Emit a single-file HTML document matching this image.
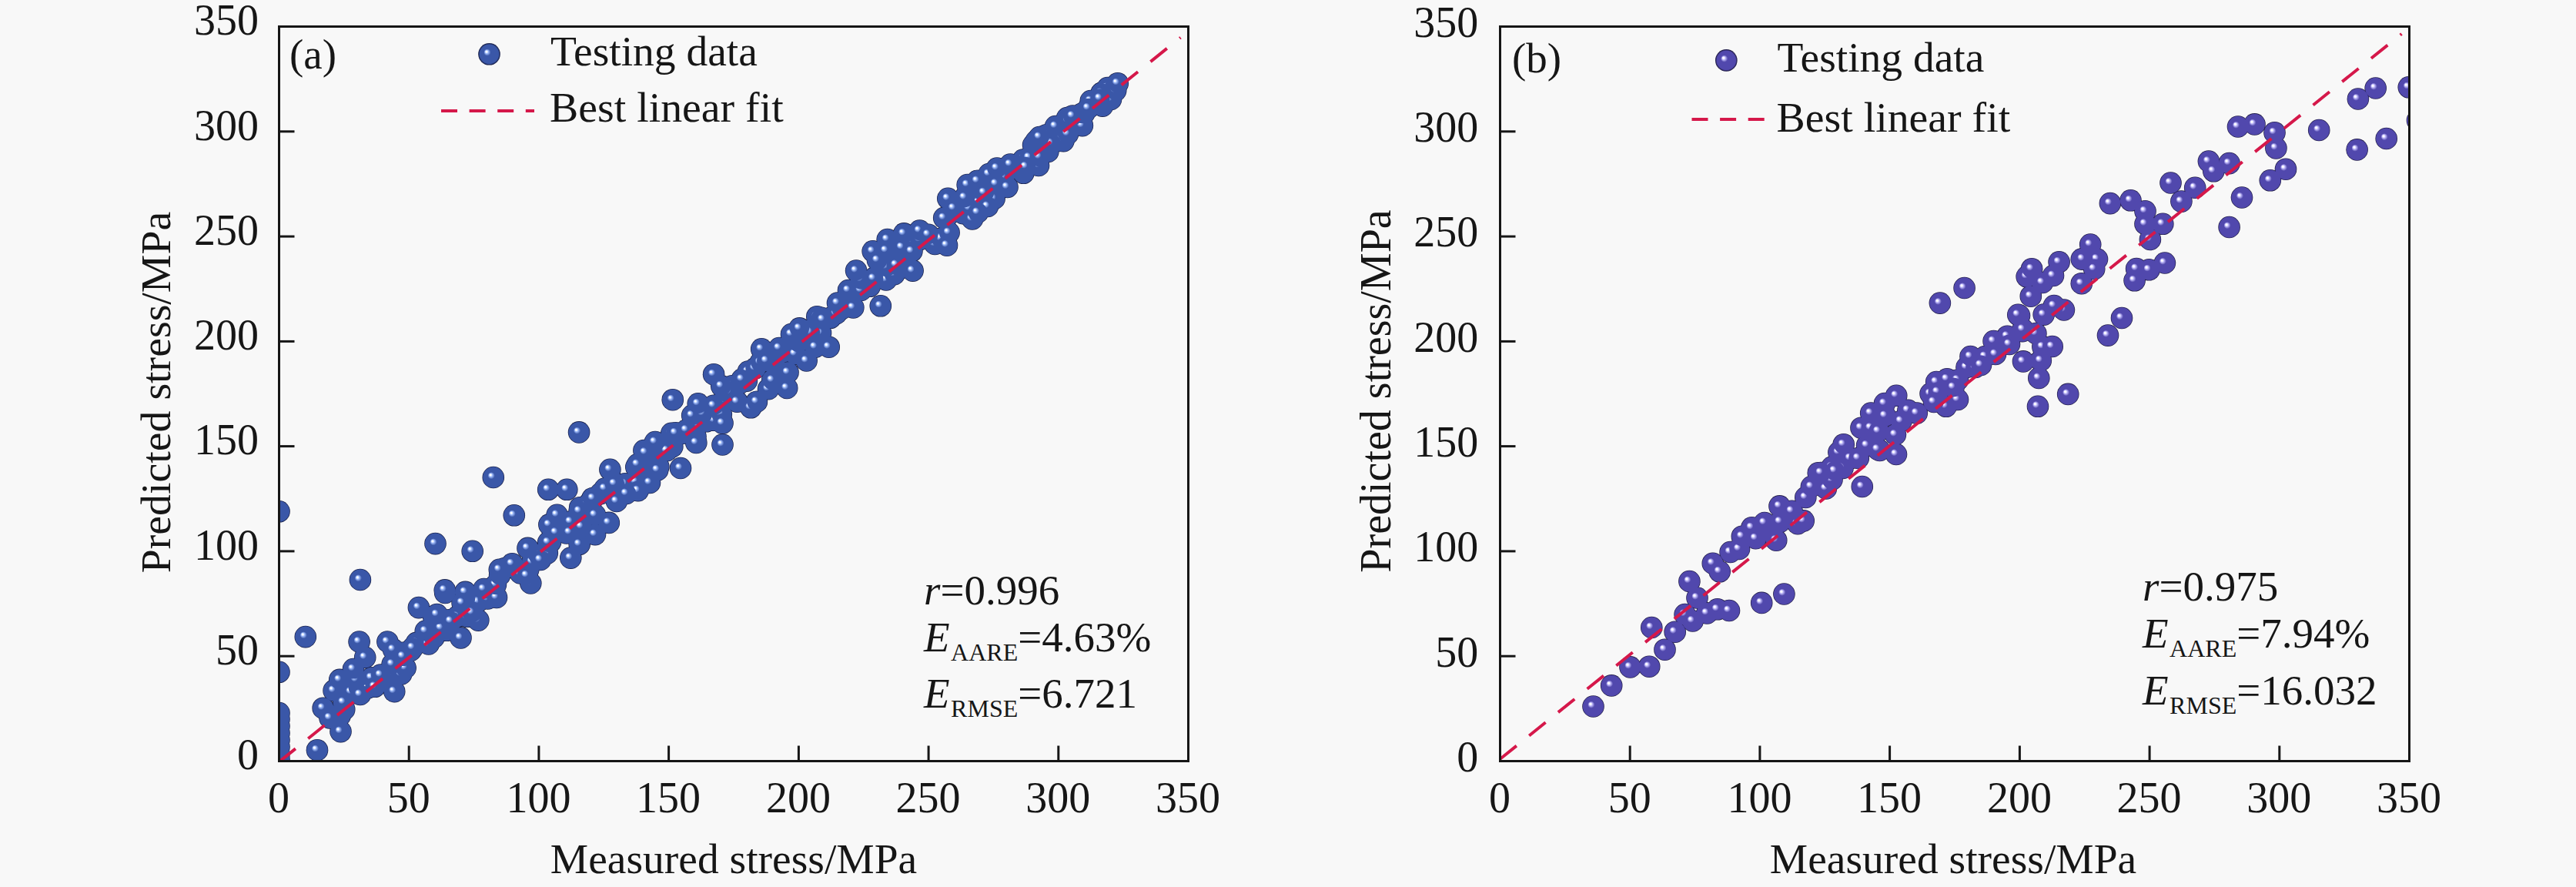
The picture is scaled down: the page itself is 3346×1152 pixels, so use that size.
<!DOCTYPE html><html><head><meta charset="utf-8"><title>fig</title><style>html,body{margin:0;padding:0;background:#f8f8f8;}svg{display:block}</style></head><body>
<svg width="3346" height="1152" viewBox="0 0 3346 1152" font-family="'Liberation Serif', serif" font-size="55" fill="#161616">
<defs><radialGradient id="ga" cx="0.5" cy="0.5" r="0.5" fx="0.34" fy="0.36"><stop offset="0" stop-color="#ffffff"/><stop offset="0.08" stop-color="#ffffff"/><stop offset="0.16" stop-color="#a9c4ff"/><stop offset="0.36" stop-color="#3a57a8"/><stop offset="1" stop-color="#3a57a8"/></radialGradient><radialGradient id="gar" cx="0.5" cy="0.5" r="0.5"><stop offset="0" stop-color="#3a57a8"/><stop offset="0.82" stop-color="#3a57a8"/><stop offset="1" stop-color="#141a40"/></radialGradient><radialGradient id="gb" cx="0.5" cy="0.5" r="0.5" fx="0.34" fy="0.36"><stop offset="0" stop-color="#ffffff"/><stop offset="0.08" stop-color="#ffffff"/><stop offset="0.16" stop-color="#c9c4ff"/><stop offset="0.36" stop-color="#5148ad"/><stop offset="1" stop-color="#5148ad"/></radialGradient><radialGradient id="gbr" cx="0.5" cy="0.5" r="0.5"><stop offset="0" stop-color="#5148ad"/><stop offset="0.82" stop-color="#5148ad"/><stop offset="1" stop-color="#1c183e"/></radialGradient></defs>
<rect width="3346" height="1152" fill="#f8f8f8"/>
<clipPath id="ca"><rect x="362.5" y="34.5" width="1181.0" height="954.0"/></clipPath>
<g clip-path="url(#ca)" fill="url(#gar)">
<circle cx="429.3" cy="929.3" r="14.3"/>
<circle cx="441.7" cy="929.4" r="14.3"/>
<circle cx="447.2" cy="921.4" r="14.3"/>
<circle cx="448.1" cy="906.0" r="14.3"/>
<circle cx="456.3" cy="898.7" r="14.3"/>
<circle cx="465.1" cy="892.6" r="14.3"/>
<circle cx="477.7" cy="893.4" r="14.3"/>
<circle cx="482.7" cy="880.2" r="14.3"/>
<circle cx="497.9" cy="883.4" r="14.3"/>
<circle cx="507.0" cy="874.5" r="14.3"/>
<circle cx="521.2" cy="875.4" r="14.3"/>
<circle cx="526.6" cy="867.5" r="14.3"/>
<circle cx="523.7" cy="847.8" r="14.3"/>
<circle cx="533.5" cy="844.9" r="14.3"/>
<circle cx="541.0" cy="834.9" r="14.3"/>
<circle cx="556.7" cy="836.5" r="14.3"/>
<circle cx="563.4" cy="828.2" r="14.3"/>
<circle cx="563.2" cy="813.3" r="14.3"/>
<circle cx="580.3" cy="818.8" r="14.3"/>
<circle cx="583.0" cy="805.3" r="14.3"/>
<circle cx="593.9" cy="800.8" r="14.3"/>
<circle cx="606.9" cy="800.8" r="14.3"/>
<circle cx="607.7" cy="783.2" r="14.3"/>
<circle cx="620.7" cy="781.5" r="14.3"/>
<circle cx="633.4" cy="777.5" r="14.3"/>
<circle cx="645.0" cy="775.9" r="14.3"/>
<circle cx="643.9" cy="759.5" r="14.3"/>
<circle cx="649.1" cy="747.0" r="14.3"/>
<circle cx="655.9" cy="738.1" r="14.3"/>
<circle cx="675.9" cy="744.4" r="14.3"/>
<circle cx="686.3" cy="739.5" r="14.3"/>
<circle cx="691.5" cy="729.7" r="14.3"/>
<circle cx="698.5" cy="720.5" r="14.3"/>
<circle cx="710.8" cy="718.6" r="14.3"/>
<circle cx="715.1" cy="703.8" r="14.3"/>
<circle cx="717.9" cy="688.9" r="14.3"/>
<circle cx="735.8" cy="692.5" r="14.3"/>
<circle cx="748.5" cy="687.7" r="14.3"/>
<circle cx="749.7" cy="673.3" r="14.3"/>
<circle cx="753.2" cy="659.2" r="14.3"/>
<circle cx="763.8" cy="655.2" r="14.3"/>
<circle cx="769.5" cy="647.2" r="14.3"/>
<circle cx="779.9" cy="641.1" r="14.3"/>
<circle cx="791.6" cy="639.7" r="14.3"/>
<circle cx="796.5" cy="626.2" r="14.3"/>
<circle cx="811.9" cy="628.2" r="14.3"/>
<circle cx="825.7" cy="625.5" r="14.3"/>
<circle cx="827.1" cy="607.7" r="14.3"/>
<circle cx="836.6" cy="602.5" r="14.3"/>
<circle cx="855.3" cy="606.0" r="14.3"/>
<circle cx="850.9" cy="585.3" r="14.3"/>
<circle cx="859.5" cy="580.2" r="14.3"/>
<circle cx="873.3" cy="580.1" r="14.3"/>
<circle cx="872.2" cy="562.8" r="14.3"/>
<circle cx="886.0" cy="563.0" r="14.3"/>
<circle cx="903.5" cy="567.0" r="14.3"/>
<circle cx="906.0" cy="551.5" r="14.3"/>
<circle cx="917.3" cy="547.3" r="14.3"/>
<circle cx="927.8" cy="545.8" r="14.3"/>
<circle cx="936.8" cy="537.8" r="14.3"/>
<circle cx="938.9" cy="521.2" r="14.3"/>
<circle cx="942.7" cy="509.2" r="14.3"/>
<circle cx="951.0" cy="501.2" r="14.3"/>
<circle cx="960.4" cy="498.2" r="14.3"/>
<circle cx="969.9" cy="494.6" r="14.3"/>
<circle cx="971.9" cy="482.5" r="14.3"/>
<circle cx="980.9" cy="478.4" r="14.3"/>
<circle cx="987.8" cy="470.5" r="14.3"/>
<circle cx="1006.3" cy="473.7" r="14.3"/>
<circle cx="1008.3" cy="461.0" r="14.3"/>
<circle cx="1018.1" cy="456.6" r="14.3"/>
<circle cx="1032.8" cy="459.7" r="14.3"/>
<circle cx="1036.9" cy="444.5" r="14.3"/>
<circle cx="1039.6" cy="430.6" r="14.3"/>
<circle cx="1050.8" cy="429.5" r="14.3"/>
<circle cx="1066.0" cy="432.4" r="14.3"/>
<circle cx="1061.3" cy="411.2" r="14.3"/>
<circle cx="1078.8" cy="412.8" r="14.3"/>
<circle cx="1086.4" cy="407.1" r="14.3"/>
<circle cx="1093.3" cy="401.1" r="14.3"/>
<circle cx="1108.3" cy="399.4" r="14.3"/>
<circle cx="1108.3" cy="380.8" r="14.3"/>
<circle cx="1115.0" cy="372.5" r="14.3"/>
<circle cx="1129.8" cy="371.8" r="14.3"/>
<circle cx="1136.1" cy="360.5" r="14.3"/>
<circle cx="1151.0" cy="363.4" r="14.3"/>
<circle cx="1161.6" cy="356.1" r="14.3"/>
<circle cx="1170.5" cy="347.9" r="14.3"/>
<circle cx="1170.8" cy="329.4" r="14.3"/>
<circle cx="1181.3" cy="324.9" r="14.3"/>
<circle cx="1183.4" cy="313.1" r="14.3"/>
<circle cx="1194.7" cy="311.1" r="14.3"/>
<circle cx="1214.4" cy="316.9" r="14.3"/>
<circle cx="1222.4" cy="309.8" r="14.3"/>
<circle cx="1232.6" cy="302.1" r="14.3"/>
<circle cx="1229.6" cy="281.8" r="14.3"/>
<circle cx="1237.0" cy="275.2" r="14.3"/>
<circle cx="1251.0" cy="277.1" r="14.3"/>
<circle cx="1264.0" cy="273.3" r="14.3"/>
<circle cx="1269.6" cy="263.0" r="14.3"/>
<circle cx="1270.4" cy="244.8" r="14.3"/>
<circle cx="1291.9" cy="253.0" r="14.3"/>
<circle cx="1298.8" cy="242.5" r="14.3"/>
<circle cx="1298.6" cy="225.0" r="14.3"/>
<circle cx="1310.3" cy="220.4" r="14.3"/>
<circle cx="1329.4" cy="224.8" r="14.3"/>
<circle cx="1328.9" cy="207.5" r="14.3"/>
<circle cx="1343.7" cy="205.6" r="14.3"/>
<circle cx="1342.1" cy="188.4" r="14.3"/>
<circle cx="1361.3" cy="196.9" r="14.3"/>
<circle cx="1359.3" cy="175.2" r="14.3"/>
<circle cx="1381.4" cy="183.1" r="14.3"/>
<circle cx="1380.8" cy="164.1" r="14.3"/>
<circle cx="1386.2" cy="153.1" r="14.3"/>
<circle cx="1405.9" cy="163.1" r="14.3"/>
<circle cx="1408.1" cy="147.6" r="14.3"/>
<circle cx="1416.5" cy="138.0" r="14.3"/>
<circle cx="1432.1" cy="137.6" r="14.3"/>
<circle cx="1431.0" cy="120.7" r="14.3"/>
<circle cx="1438.7" cy="114.1" r="14.3"/>
<circle cx="362.5" cy="664.3" r="14.3"/>
<circle cx="362.5" cy="872.8" r="14.3"/>
<circle cx="362.5" cy="926.0" r="14.3"/>
<circle cx="362.5" cy="934.0" r="14.3"/>
<circle cx="362.5" cy="943.0" r="14.3"/>
<circle cx="362.5" cy="952.0" r="14.3"/>
<circle cx="362.5" cy="961.0" r="14.3"/>
<circle cx="362.5" cy="970.0" r="14.3"/>
<circle cx="362.5" cy="979.0" r="14.3"/>
<circle cx="362.5" cy="986.0" r="14.3"/>
<circle cx="412.0" cy="974.2" r="14.3"/>
<circle cx="396.8" cy="827.1" r="14.3"/>
<circle cx="442.5" cy="950.1" r="14.3"/>
<circle cx="419.7" cy="919.7" r="14.3"/>
<circle cx="428.5" cy="932.4" r="14.3"/>
<circle cx="433.6" cy="896.9" r="14.3"/>
<circle cx="446.3" cy="912.1" r="14.3"/>
<circle cx="441.2" cy="882.9" r="14.3"/>
<circle cx="462.8" cy="882.9" r="14.3"/>
<circle cx="459.0" cy="869.0" r="14.3"/>
<circle cx="467.9" cy="902.0" r="14.3"/>
<circle cx="466.6" cy="833.5" r="14.3"/>
<circle cx="474.2" cy="853.8" r="14.3"/>
<circle cx="494.5" cy="876.6" r="14.3"/>
<circle cx="512.2" cy="898.1" r="14.3"/>
<circle cx="486.9" cy="891.8" r="14.3"/>
<circle cx="503.4" cy="833.5" r="14.3"/>
<circle cx="511.0" cy="843.6" r="14.3"/>
<circle cx="509.7" cy="862.6" r="14.3"/>
<circle cx="523.7" cy="852.5" r="14.3"/>
<circle cx="536.3" cy="841.1" r="14.3"/>
<circle cx="543.9" cy="789.1" r="14.3"/>
<circle cx="563.0" cy="800.5" r="14.3"/>
<circle cx="552.8" cy="819.5" r="14.3"/>
<circle cx="573.1" cy="815.7" r="14.3"/>
<circle cx="598.5" cy="828.4" r="14.3"/>
<circle cx="585.8" cy="806.8" r="14.3"/>
<circle cx="604.8" cy="776.4" r="14.3"/>
<circle cx="611.2" cy="792.9" r="14.3"/>
<circle cx="621.3" cy="805.6" r="14.3"/>
<circle cx="578.2" cy="770.0" r="14.3"/>
<circle cx="467.9" cy="753.0" r="14.3"/>
<circle cx="565.5" cy="706.1" r="14.3"/>
<circle cx="613.7" cy="715.8" r="14.3"/>
<circle cx="640.8" cy="620.0" r="14.3"/>
<circle cx="667.8" cy="669.3" r="14.3"/>
<circle cx="712.2" cy="635.8" r="14.3"/>
<circle cx="736.3" cy="635.8" r="14.3"/>
<circle cx="577.8" cy="766.4" r="14.3"/>
<circle cx="604.4" cy="768.9" r="14.3"/>
<circle cx="567.6" cy="798.1" r="14.3"/>
<circle cx="628.5" cy="765.1" r="14.3"/>
<circle cx="600.6" cy="782.9" r="14.3"/>
<circle cx="613.3" cy="795.6" r="14.3"/>
<circle cx="648.8" cy="739.8" r="14.3"/>
<circle cx="665.3" cy="732.2" r="14.3"/>
<circle cx="685.5" cy="711.9" r="14.3"/>
<circle cx="689.3" cy="757.5" r="14.3"/>
<circle cx="684.3" cy="747.4" r="14.3"/>
<circle cx="702.0" cy="727.0" r="14.3"/>
<circle cx="713.4" cy="681.4" r="14.3"/>
<circle cx="723.6" cy="668.8" r="14.3"/>
<circle cx="722.3" cy="691.6" r="14.3"/>
<circle cx="712.2" cy="704.3" r="14.3"/>
<circle cx="741.3" cy="677.6" r="14.3"/>
<circle cx="740.1" cy="691.6" r="14.3"/>
<circle cx="741.3" cy="724.6" r="14.3"/>
<circle cx="752.7" cy="706.8" r="14.3"/>
<circle cx="773.0" cy="668.8" r="14.3"/>
<circle cx="773.0" cy="694.1" r="14.3"/>
<circle cx="790.8" cy="678.9" r="14.3"/>
<circle cx="770.5" cy="647.2" r="14.3"/>
<circle cx="785.7" cy="634.5" r="14.3"/>
<circle cx="798.4" cy="628.2" r="14.3"/>
<circle cx="800.9" cy="651.0" r="14.3"/>
<circle cx="828.8" cy="637.1" r="14.3"/>
<circle cx="826.3" cy="606.6" r="14.3"/>
<circle cx="844.0" cy="626.9" r="14.3"/>
<circle cx="836.4" cy="585.1" r="14.3"/>
<circle cx="854.2" cy="610.4" r="14.3"/>
<circle cx="792.4" cy="609.8" r="14.3"/>
<circle cx="873.8" cy="519.2" r="14.3"/>
<circle cx="927.1" cy="486.2" r="14.3"/>
<circle cx="884.0" cy="608.0" r="14.3"/>
<circle cx="938.5" cy="577.5" r="14.3"/>
<circle cx="828.2" cy="603.0" r="14.3"/>
<circle cx="838.3" cy="587.7" r="14.3"/>
<circle cx="852.3" cy="577.5" r="14.3"/>
<circle cx="866.2" cy="585.1" r="14.3"/>
<circle cx="877.6" cy="562.3" r="14.3"/>
<circle cx="891.6" cy="558.5" r="14.3"/>
<circle cx="904.3" cy="575.0" r="14.3"/>
<circle cx="899.2" cy="539.5" r="14.3"/>
<circle cx="913.1" cy="537.0" r="14.3"/>
<circle cx="906.8" cy="524.3" r="14.3"/>
<circle cx="927.1" cy="526.8" r="14.3"/>
<circle cx="938.5" cy="549.6" r="14.3"/>
<circle cx="947.4" cy="509.1" r="14.3"/>
<circle cx="937.2" cy="501.4" r="14.3"/>
<circle cx="963.9" cy="492.6" r="14.3"/>
<circle cx="957.5" cy="521.7" r="14.3"/>
<circle cx="975.3" cy="529.3" r="14.3"/>
<circle cx="982.9" cy="521.7" r="14.3"/>
<circle cx="998.1" cy="505.2" r="14.3"/>
<circle cx="1022.2" cy="504.0" r="14.3"/>
<circle cx="989.2" cy="453.3" r="14.3"/>
<circle cx="995.6" cy="468.5" r="14.3"/>
<circle cx="1012.1" cy="452.0" r="14.3"/>
<circle cx="1003.2" cy="493.8" r="14.3"/>
<circle cx="1023.5" cy="483.7" r="14.3"/>
<circle cx="1047.6" cy="468.5" r="14.3"/>
<circle cx="1048.8" cy="429.2" r="14.3"/>
<circle cx="1033.6" cy="435.5" r="14.3"/>
<circle cx="1059.0" cy="450.7" r="14.3"/>
<circle cx="1066.6" cy="412.7" r="14.3"/>
<circle cx="1076.7" cy="450.7" r="14.3"/>
<circle cx="1143.8" cy="397.3" r="14.3"/>
<circle cx="1052.5" cy="431.5" r="14.3"/>
<circle cx="1069.0" cy="415.0" r="14.3"/>
<circle cx="1088.0" cy="393.5" r="14.3"/>
<circle cx="1102.0" cy="377.0" r="14.3"/>
<circle cx="1118.4" cy="377.0" r="14.3"/>
<circle cx="1118.4" cy="363.0" r="14.3"/>
<circle cx="1134.9" cy="361.8" r="14.3"/>
<circle cx="1112.1" cy="351.6" r="14.3"/>
<circle cx="1133.7" cy="326.3" r="14.3"/>
<circle cx="1151.4" cy="346.6" r="14.3"/>
<circle cx="1152.7" cy="311.0" r="14.3"/>
<circle cx="1164.1" cy="344.0" r="14.3"/>
<circle cx="1171.7" cy="321.2" r="14.3"/>
<circle cx="1174.2" cy="303.4" r="14.3"/>
<circle cx="1184.4" cy="326.3" r="14.3"/>
<circle cx="1185.6" cy="351.6" r="14.3"/>
<circle cx="1194.5" cy="299.6" r="14.3"/>
<circle cx="1205.9" cy="304.7" r="14.3"/>
<circle cx="1230.0" cy="318.7" r="14.3"/>
<circle cx="1226.2" cy="283.1" r="14.3"/>
<circle cx="1231.3" cy="257.8" r="14.3"/>
<circle cx="1238.9" cy="270.5" r="14.3"/>
<circle cx="1254.1" cy="255.3" r="14.3"/>
<circle cx="1259.2" cy="270.5" r="14.3"/>
<circle cx="1263.0" cy="284.4" r="14.3"/>
<circle cx="1269.3" cy="235.0" r="14.3"/>
<circle cx="1256.7" cy="240.0" r="14.3"/>
<circle cx="1282.0" cy="247.6" r="14.3"/>
<circle cx="1284.6" cy="226.1" r="14.3"/>
<circle cx="1294.7" cy="238.8" r="14.3"/>
<circle cx="1028.0" cy="434.0" r="14.3"/>
<circle cx="1038.5" cy="426.4" r="14.3"/>
<circle cx="1291.6" cy="258.0" r="14.3"/>
<circle cx="1445.9" cy="115.8" r="14.3"/>
<circle cx="1430.7" cy="120.9" r="14.3"/>
<circle cx="1416.8" cy="131.0" r="14.3"/>
<circle cx="1405.4" cy="147.5" r="14.3"/>
<circle cx="1387.6" cy="156.4" r="14.3"/>
<circle cx="1371.1" cy="164.0" r="14.3"/>
<circle cx="1376.2" cy="183.0" r="14.3"/>
<circle cx="1345.8" cy="183.0" r="14.3"/>
<circle cx="1336.9" cy="204.6" r="14.3"/>
<circle cx="1322.9" cy="214.7" r="14.3"/>
<circle cx="1303.9" cy="230.0" r="14.3"/>
<circle cx="1295.0" cy="218.5" r="14.3"/>
<circle cx="1269.7" cy="235.0" r="14.3"/>
<circle cx="1293.8" cy="238.8" r="14.3"/>
<circle cx="1253.2" cy="256.6" r="14.3"/>
<circle cx="1278.5" cy="250.2" r="14.3"/>
<circle cx="1443.0" cy="129.0" r="14.3"/>
<circle cx="1387.0" cy="174.0" r="14.3"/>
<circle cx="1349.0" cy="215.0" r="14.3"/>
<circle cx="1308.5" cy="243.0" r="14.3"/>
<circle cx="755.3" cy="684.0" r="14.3"/>
<circle cx="752.7" cy="663.7" r="14.3"/>
<circle cx="813.6" cy="641.0" r="14.3"/>
<circle cx="1140.0" cy="338.0" r="14.3"/>
<circle cx="1283.0" cy="268.0" r="14.3"/>
<circle cx="1270.0" cy="276.0" r="14.3"/>
<circle cx="752.1" cy="561.4" r="14.3"/>
<circle cx="851.0" cy="574.0" r="14.3"/>
<circle cx="1332.6" cy="216.5" r="14.3"/>
<circle cx="1350.3" cy="203.8" r="14.3"/>
<circle cx="1365.5" cy="186.1" r="14.3"/>
<circle cx="1393.4" cy="150.6" r="14.3"/>
<circle cx="1413.7" cy="140.4" r="14.3"/>
<circle cx="1428.9" cy="127.8" r="14.3"/>
<circle cx="1449.2" cy="117.6" r="14.3"/>
<circle cx="1312.3" cy="213.5" r="14.3"/>
<circle cx="1350.3" cy="178.0" r="14.3"/>
<circle cx="1451.8" cy="108.2" r="14.3"/>
<circle cx="1151.0" cy="325.4" r="14.3"/>
</g>
<g clip-path="url(#ca)" fill="#3a57a8">
<circle cx="429.3" cy="929.3" r="13.5"/>
<circle cx="441.7" cy="929.4" r="13.5"/>
<circle cx="447.2" cy="921.4" r="13.5"/>
<circle cx="448.1" cy="906.0" r="13.5"/>
<circle cx="456.3" cy="898.7" r="13.5"/>
<circle cx="465.1" cy="892.6" r="13.5"/>
<circle cx="477.7" cy="893.4" r="13.5"/>
<circle cx="482.7" cy="880.2" r="13.5"/>
<circle cx="497.9" cy="883.4" r="13.5"/>
<circle cx="507.0" cy="874.5" r="13.5"/>
<circle cx="521.2" cy="875.4" r="13.5"/>
<circle cx="526.6" cy="867.5" r="13.5"/>
<circle cx="523.7" cy="847.8" r="13.5"/>
<circle cx="533.5" cy="844.9" r="13.5"/>
<circle cx="541.0" cy="834.9" r="13.5"/>
<circle cx="556.7" cy="836.5" r="13.5"/>
<circle cx="563.4" cy="828.2" r="13.5"/>
<circle cx="563.2" cy="813.3" r="13.5"/>
<circle cx="580.3" cy="818.8" r="13.5"/>
<circle cx="583.0" cy="805.3" r="13.5"/>
<circle cx="593.9" cy="800.8" r="13.5"/>
<circle cx="606.9" cy="800.8" r="13.5"/>
<circle cx="607.7" cy="783.2" r="13.5"/>
<circle cx="620.7" cy="781.5" r="13.5"/>
<circle cx="633.4" cy="777.5" r="13.5"/>
<circle cx="645.0" cy="775.9" r="13.5"/>
<circle cx="643.9" cy="759.5" r="13.5"/>
<circle cx="649.1" cy="747.0" r="13.5"/>
<circle cx="655.9" cy="738.1" r="13.5"/>
<circle cx="675.9" cy="744.4" r="13.5"/>
<circle cx="686.3" cy="739.5" r="13.5"/>
<circle cx="691.5" cy="729.7" r="13.5"/>
<circle cx="698.5" cy="720.5" r="13.5"/>
<circle cx="710.8" cy="718.6" r="13.5"/>
<circle cx="715.1" cy="703.8" r="13.5"/>
<circle cx="717.9" cy="688.9" r="13.5"/>
<circle cx="735.8" cy="692.5" r="13.5"/>
<circle cx="748.5" cy="687.7" r="13.5"/>
<circle cx="749.7" cy="673.3" r="13.5"/>
<circle cx="753.2" cy="659.2" r="13.5"/>
<circle cx="763.8" cy="655.2" r="13.5"/>
<circle cx="769.5" cy="647.2" r="13.5"/>
<circle cx="779.9" cy="641.1" r="13.5"/>
<circle cx="791.6" cy="639.7" r="13.5"/>
<circle cx="796.5" cy="626.2" r="13.5"/>
<circle cx="811.9" cy="628.2" r="13.5"/>
<circle cx="825.7" cy="625.5" r="13.5"/>
<circle cx="827.1" cy="607.7" r="13.5"/>
<circle cx="836.6" cy="602.5" r="13.5"/>
<circle cx="855.3" cy="606.0" r="13.5"/>
<circle cx="850.9" cy="585.3" r="13.5"/>
<circle cx="859.5" cy="580.2" r="13.5"/>
<circle cx="873.3" cy="580.1" r="13.5"/>
<circle cx="872.2" cy="562.8" r="13.5"/>
<circle cx="886.0" cy="563.0" r="13.5"/>
<circle cx="903.5" cy="567.0" r="13.5"/>
<circle cx="906.0" cy="551.5" r="13.5"/>
<circle cx="917.3" cy="547.3" r="13.5"/>
<circle cx="927.8" cy="545.8" r="13.5"/>
<circle cx="936.8" cy="537.8" r="13.5"/>
<circle cx="938.9" cy="521.2" r="13.5"/>
<circle cx="942.7" cy="509.2" r="13.5"/>
<circle cx="951.0" cy="501.2" r="13.5"/>
<circle cx="960.4" cy="498.2" r="13.5"/>
<circle cx="969.9" cy="494.6" r="13.5"/>
<circle cx="971.9" cy="482.5" r="13.5"/>
<circle cx="980.9" cy="478.4" r="13.5"/>
<circle cx="987.8" cy="470.5" r="13.5"/>
<circle cx="1006.3" cy="473.7" r="13.5"/>
<circle cx="1008.3" cy="461.0" r="13.5"/>
<circle cx="1018.1" cy="456.6" r="13.5"/>
<circle cx="1032.8" cy="459.7" r="13.5"/>
<circle cx="1036.9" cy="444.5" r="13.5"/>
<circle cx="1039.6" cy="430.6" r="13.5"/>
<circle cx="1050.8" cy="429.5" r="13.5"/>
<circle cx="1066.0" cy="432.4" r="13.5"/>
<circle cx="1061.3" cy="411.2" r="13.5"/>
<circle cx="1078.8" cy="412.8" r="13.5"/>
<circle cx="1086.4" cy="407.1" r="13.5"/>
<circle cx="1093.3" cy="401.1" r="13.5"/>
<circle cx="1108.3" cy="399.4" r="13.5"/>
<circle cx="1108.3" cy="380.8" r="13.5"/>
<circle cx="1115.0" cy="372.5" r="13.5"/>
<circle cx="1129.8" cy="371.8" r="13.5"/>
<circle cx="1136.1" cy="360.5" r="13.5"/>
<circle cx="1151.0" cy="363.4" r="13.5"/>
<circle cx="1161.6" cy="356.1" r="13.5"/>
<circle cx="1170.5" cy="347.9" r="13.5"/>
<circle cx="1170.8" cy="329.4" r="13.5"/>
<circle cx="1181.3" cy="324.9" r="13.5"/>
<circle cx="1183.4" cy="313.1" r="13.5"/>
<circle cx="1194.7" cy="311.1" r="13.5"/>
<circle cx="1214.4" cy="316.9" r="13.5"/>
<circle cx="1222.4" cy="309.8" r="13.5"/>
<circle cx="1232.6" cy="302.1" r="13.5"/>
<circle cx="1229.6" cy="281.8" r="13.5"/>
<circle cx="1237.0" cy="275.2" r="13.5"/>
<circle cx="1251.0" cy="277.1" r="13.5"/>
<circle cx="1264.0" cy="273.3" r="13.5"/>
<circle cx="1269.6" cy="263.0" r="13.5"/>
<circle cx="1270.4" cy="244.8" r="13.5"/>
<circle cx="1291.9" cy="253.0" r="13.5"/>
<circle cx="1298.8" cy="242.5" r="13.5"/>
<circle cx="1298.6" cy="225.0" r="13.5"/>
<circle cx="1310.3" cy="220.4" r="13.5"/>
<circle cx="1329.4" cy="224.8" r="13.5"/>
<circle cx="1328.9" cy="207.5" r="13.5"/>
<circle cx="1343.7" cy="205.6" r="13.5"/>
<circle cx="1342.1" cy="188.4" r="13.5"/>
<circle cx="1361.3" cy="196.9" r="13.5"/>
<circle cx="1359.3" cy="175.2" r="13.5"/>
<circle cx="1381.4" cy="183.1" r="13.5"/>
<circle cx="1380.8" cy="164.1" r="13.5"/>
<circle cx="1386.2" cy="153.1" r="13.5"/>
<circle cx="1405.9" cy="163.1" r="13.5"/>
<circle cx="1408.1" cy="147.6" r="13.5"/>
<circle cx="1416.5" cy="138.0" r="13.5"/>
<circle cx="1432.1" cy="137.6" r="13.5"/>
<circle cx="1431.0" cy="120.7" r="13.5"/>
<circle cx="1438.7" cy="114.1" r="13.5"/>
<circle cx="362.5" cy="664.3" r="13.5"/>
<circle cx="362.5" cy="872.8" r="13.5"/>
<circle cx="362.5" cy="926.0" r="13.5"/>
<circle cx="362.5" cy="934.0" r="13.5"/>
<circle cx="362.5" cy="943.0" r="13.5"/>
<circle cx="362.5" cy="952.0" r="13.5"/>
<circle cx="362.5" cy="961.0" r="13.5"/>
<circle cx="362.5" cy="970.0" r="13.5"/>
<circle cx="362.5" cy="979.0" r="13.5"/>
<circle cx="362.5" cy="986.0" r="13.5"/>
<circle cx="412.0" cy="974.2" r="13.5"/>
<circle cx="396.8" cy="827.1" r="13.5"/>
<circle cx="442.5" cy="950.1" r="13.5"/>
<circle cx="419.7" cy="919.7" r="13.5"/>
<circle cx="428.5" cy="932.4" r="13.5"/>
<circle cx="433.6" cy="896.9" r="13.5"/>
<circle cx="446.3" cy="912.1" r="13.5"/>
<circle cx="441.2" cy="882.9" r="13.5"/>
<circle cx="462.8" cy="882.9" r="13.5"/>
<circle cx="459.0" cy="869.0" r="13.5"/>
<circle cx="467.9" cy="902.0" r="13.5"/>
<circle cx="466.6" cy="833.5" r="13.5"/>
<circle cx="474.2" cy="853.8" r="13.5"/>
<circle cx="494.5" cy="876.6" r="13.5"/>
<circle cx="512.2" cy="898.1" r="13.5"/>
<circle cx="486.9" cy="891.8" r="13.5"/>
<circle cx="503.4" cy="833.5" r="13.5"/>
<circle cx="511.0" cy="843.6" r="13.5"/>
<circle cx="509.7" cy="862.6" r="13.5"/>
<circle cx="523.7" cy="852.5" r="13.5"/>
<circle cx="536.3" cy="841.1" r="13.5"/>
<circle cx="543.9" cy="789.1" r="13.5"/>
<circle cx="563.0" cy="800.5" r="13.5"/>
<circle cx="552.8" cy="819.5" r="13.5"/>
<circle cx="573.1" cy="815.7" r="13.5"/>
<circle cx="598.5" cy="828.4" r="13.5"/>
<circle cx="585.8" cy="806.8" r="13.5"/>
<circle cx="604.8" cy="776.4" r="13.5"/>
<circle cx="611.2" cy="792.9" r="13.5"/>
<circle cx="621.3" cy="805.6" r="13.5"/>
<circle cx="578.2" cy="770.0" r="13.5"/>
<circle cx="467.9" cy="753.0" r="13.5"/>
<circle cx="565.5" cy="706.1" r="13.5"/>
<circle cx="613.7" cy="715.8" r="13.5"/>
<circle cx="640.8" cy="620.0" r="13.5"/>
<circle cx="667.8" cy="669.3" r="13.5"/>
<circle cx="712.2" cy="635.8" r="13.5"/>
<circle cx="736.3" cy="635.8" r="13.5"/>
<circle cx="577.8" cy="766.4" r="13.5"/>
<circle cx="604.4" cy="768.9" r="13.5"/>
<circle cx="567.6" cy="798.1" r="13.5"/>
<circle cx="628.5" cy="765.1" r="13.5"/>
<circle cx="600.6" cy="782.9" r="13.5"/>
<circle cx="613.3" cy="795.6" r="13.5"/>
<circle cx="648.8" cy="739.8" r="13.5"/>
<circle cx="665.3" cy="732.2" r="13.5"/>
<circle cx="685.5" cy="711.9" r="13.5"/>
<circle cx="689.3" cy="757.5" r="13.5"/>
<circle cx="684.3" cy="747.4" r="13.5"/>
<circle cx="702.0" cy="727.0" r="13.5"/>
<circle cx="713.4" cy="681.4" r="13.5"/>
<circle cx="723.6" cy="668.8" r="13.5"/>
<circle cx="722.3" cy="691.6" r="13.5"/>
<circle cx="712.2" cy="704.3" r="13.5"/>
<circle cx="741.3" cy="677.6" r="13.5"/>
<circle cx="740.1" cy="691.6" r="13.5"/>
<circle cx="741.3" cy="724.6" r="13.5"/>
<circle cx="752.7" cy="706.8" r="13.5"/>
<circle cx="773.0" cy="668.8" r="13.5"/>
<circle cx="773.0" cy="694.1" r="13.5"/>
<circle cx="790.8" cy="678.9" r="13.5"/>
<circle cx="770.5" cy="647.2" r="13.5"/>
<circle cx="785.7" cy="634.5" r="13.5"/>
<circle cx="798.4" cy="628.2" r="13.5"/>
<circle cx="800.9" cy="651.0" r="13.5"/>
<circle cx="828.8" cy="637.1" r="13.5"/>
<circle cx="826.3" cy="606.6" r="13.5"/>
<circle cx="844.0" cy="626.9" r="13.5"/>
<circle cx="836.4" cy="585.1" r="13.5"/>
<circle cx="854.2" cy="610.4" r="13.5"/>
<circle cx="792.4" cy="609.8" r="13.5"/>
<circle cx="873.8" cy="519.2" r="13.5"/>
<circle cx="927.1" cy="486.2" r="13.5"/>
<circle cx="884.0" cy="608.0" r="13.5"/>
<circle cx="938.5" cy="577.5" r="13.5"/>
<circle cx="828.2" cy="603.0" r="13.5"/>
<circle cx="838.3" cy="587.7" r="13.5"/>
<circle cx="852.3" cy="577.5" r="13.5"/>
<circle cx="866.2" cy="585.1" r="13.5"/>
<circle cx="877.6" cy="562.3" r="13.5"/>
<circle cx="891.6" cy="558.5" r="13.5"/>
<circle cx="904.3" cy="575.0" r="13.5"/>
<circle cx="899.2" cy="539.5" r="13.5"/>
<circle cx="913.1" cy="537.0" r="13.5"/>
<circle cx="906.8" cy="524.3" r="13.5"/>
<circle cx="927.1" cy="526.8" r="13.5"/>
<circle cx="938.5" cy="549.6" r="13.5"/>
<circle cx="947.4" cy="509.1" r="13.5"/>
<circle cx="937.2" cy="501.4" r="13.5"/>
<circle cx="963.9" cy="492.6" r="13.5"/>
<circle cx="957.5" cy="521.7" r="13.5"/>
<circle cx="975.3" cy="529.3" r="13.5"/>
<circle cx="982.9" cy="521.7" r="13.5"/>
<circle cx="998.1" cy="505.2" r="13.5"/>
<circle cx="1022.2" cy="504.0" r="13.5"/>
<circle cx="989.2" cy="453.3" r="13.5"/>
<circle cx="995.6" cy="468.5" r="13.5"/>
<circle cx="1012.1" cy="452.0" r="13.5"/>
<circle cx="1003.2" cy="493.8" r="13.5"/>
<circle cx="1023.5" cy="483.7" r="13.5"/>
<circle cx="1047.6" cy="468.5" r="13.5"/>
<circle cx="1048.8" cy="429.2" r="13.5"/>
<circle cx="1033.6" cy="435.5" r="13.5"/>
<circle cx="1059.0" cy="450.7" r="13.5"/>
<circle cx="1066.6" cy="412.7" r="13.5"/>
<circle cx="1076.7" cy="450.7" r="13.5"/>
<circle cx="1143.8" cy="397.3" r="13.5"/>
<circle cx="1052.5" cy="431.5" r="13.5"/>
<circle cx="1069.0" cy="415.0" r="13.5"/>
<circle cx="1088.0" cy="393.5" r="13.5"/>
<circle cx="1102.0" cy="377.0" r="13.5"/>
<circle cx="1118.4" cy="377.0" r="13.5"/>
<circle cx="1118.4" cy="363.0" r="13.5"/>
<circle cx="1134.9" cy="361.8" r="13.5"/>
<circle cx="1112.1" cy="351.6" r="13.5"/>
<circle cx="1133.7" cy="326.3" r="13.5"/>
<circle cx="1151.4" cy="346.6" r="13.5"/>
<circle cx="1152.7" cy="311.0" r="13.5"/>
<circle cx="1164.1" cy="344.0" r="13.5"/>
<circle cx="1171.7" cy="321.2" r="13.5"/>
<circle cx="1174.2" cy="303.4" r="13.5"/>
<circle cx="1184.4" cy="326.3" r="13.5"/>
<circle cx="1185.6" cy="351.6" r="13.5"/>
<circle cx="1194.5" cy="299.6" r="13.5"/>
<circle cx="1205.9" cy="304.7" r="13.5"/>
<circle cx="1230.0" cy="318.7" r="13.5"/>
<circle cx="1226.2" cy="283.1" r="13.5"/>
<circle cx="1231.3" cy="257.8" r="13.5"/>
<circle cx="1238.9" cy="270.5" r="13.5"/>
<circle cx="1254.1" cy="255.3" r="13.5"/>
<circle cx="1259.2" cy="270.5" r="13.5"/>
<circle cx="1263.0" cy="284.4" r="13.5"/>
<circle cx="1269.3" cy="235.0" r="13.5"/>
<circle cx="1256.7" cy="240.0" r="13.5"/>
<circle cx="1282.0" cy="247.6" r="13.5"/>
<circle cx="1284.6" cy="226.1" r="13.5"/>
<circle cx="1294.7" cy="238.8" r="13.5"/>
<circle cx="1028.0" cy="434.0" r="13.5"/>
<circle cx="1038.5" cy="426.4" r="13.5"/>
<circle cx="1291.6" cy="258.0" r="13.5"/>
<circle cx="1445.9" cy="115.8" r="13.5"/>
<circle cx="1430.7" cy="120.9" r="13.5"/>
<circle cx="1416.8" cy="131.0" r="13.5"/>
<circle cx="1405.4" cy="147.5" r="13.5"/>
<circle cx="1387.6" cy="156.4" r="13.5"/>
<circle cx="1371.1" cy="164.0" r="13.5"/>
<circle cx="1376.2" cy="183.0" r="13.5"/>
<circle cx="1345.8" cy="183.0" r="13.5"/>
<circle cx="1336.9" cy="204.6" r="13.5"/>
<circle cx="1322.9" cy="214.7" r="13.5"/>
<circle cx="1303.9" cy="230.0" r="13.5"/>
<circle cx="1295.0" cy="218.5" r="13.5"/>
<circle cx="1269.7" cy="235.0" r="13.5"/>
<circle cx="1293.8" cy="238.8" r="13.5"/>
<circle cx="1253.2" cy="256.6" r="13.5"/>
<circle cx="1278.5" cy="250.2" r="13.5"/>
<circle cx="1443.0" cy="129.0" r="13.5"/>
<circle cx="1387.0" cy="174.0" r="13.5"/>
<circle cx="1349.0" cy="215.0" r="13.5"/>
<circle cx="1308.5" cy="243.0" r="13.5"/>
<circle cx="755.3" cy="684.0" r="13.5"/>
<circle cx="752.7" cy="663.7" r="13.5"/>
<circle cx="813.6" cy="641.0" r="13.5"/>
<circle cx="1140.0" cy="338.0" r="13.5"/>
<circle cx="1283.0" cy="268.0" r="13.5"/>
<circle cx="1270.0" cy="276.0" r="13.5"/>
<circle cx="752.1" cy="561.4" r="13.5"/>
<circle cx="851.0" cy="574.0" r="13.5"/>
<circle cx="1332.6" cy="216.5" r="13.5"/>
<circle cx="1350.3" cy="203.8" r="13.5"/>
<circle cx="1365.5" cy="186.1" r="13.5"/>
<circle cx="1393.4" cy="150.6" r="13.5"/>
<circle cx="1413.7" cy="140.4" r="13.5"/>
<circle cx="1428.9" cy="127.8" r="13.5"/>
<circle cx="1449.2" cy="117.6" r="13.5"/>
<circle cx="1312.3" cy="213.5" r="13.5"/>
<circle cx="1350.3" cy="178.0" r="13.5"/>
<circle cx="1451.8" cy="108.2" r="13.5"/>
<circle cx="1151.0" cy="325.4" r="13.5"/>
</g>
<g clip-path="url(#ca)" fill="url(#ga)">
<circle cx="429.3" cy="929.3" r="12.6"/>
<circle cx="441.7" cy="929.4" r="12.6"/>
<circle cx="447.2" cy="921.4" r="12.6"/>
<circle cx="448.1" cy="906.0" r="12.6"/>
<circle cx="456.3" cy="898.7" r="12.6"/>
<circle cx="465.1" cy="892.6" r="12.6"/>
<circle cx="477.7" cy="893.4" r="12.6"/>
<circle cx="482.7" cy="880.2" r="12.6"/>
<circle cx="497.9" cy="883.4" r="12.6"/>
<circle cx="507.0" cy="874.5" r="12.6"/>
<circle cx="521.2" cy="875.4" r="12.6"/>
<circle cx="526.6" cy="867.5" r="12.6"/>
<circle cx="523.7" cy="847.8" r="12.6"/>
<circle cx="533.5" cy="844.9" r="12.6"/>
<circle cx="541.0" cy="834.9" r="12.6"/>
<circle cx="556.7" cy="836.5" r="12.6"/>
<circle cx="563.4" cy="828.2" r="12.6"/>
<circle cx="563.2" cy="813.3" r="12.6"/>
<circle cx="580.3" cy="818.8" r="12.6"/>
<circle cx="583.0" cy="805.3" r="12.6"/>
<circle cx="593.9" cy="800.8" r="12.6"/>
<circle cx="606.9" cy="800.8" r="12.6"/>
<circle cx="607.7" cy="783.2" r="12.6"/>
<circle cx="620.7" cy="781.5" r="12.6"/>
<circle cx="633.4" cy="777.5" r="12.6"/>
<circle cx="645.0" cy="775.9" r="12.6"/>
<circle cx="643.9" cy="759.5" r="12.6"/>
<circle cx="649.1" cy="747.0" r="12.6"/>
<circle cx="655.9" cy="738.1" r="12.6"/>
<circle cx="675.9" cy="744.4" r="12.6"/>
<circle cx="686.3" cy="739.5" r="12.6"/>
<circle cx="691.5" cy="729.7" r="12.6"/>
<circle cx="698.5" cy="720.5" r="12.6"/>
<circle cx="710.8" cy="718.6" r="12.6"/>
<circle cx="715.1" cy="703.8" r="12.6"/>
<circle cx="717.9" cy="688.9" r="12.6"/>
<circle cx="735.8" cy="692.5" r="12.6"/>
<circle cx="748.5" cy="687.7" r="12.6"/>
<circle cx="749.7" cy="673.3" r="12.6"/>
<circle cx="753.2" cy="659.2" r="12.6"/>
<circle cx="763.8" cy="655.2" r="12.6"/>
<circle cx="769.5" cy="647.2" r="12.6"/>
<circle cx="779.9" cy="641.1" r="12.6"/>
<circle cx="791.6" cy="639.7" r="12.6"/>
<circle cx="796.5" cy="626.2" r="12.6"/>
<circle cx="811.9" cy="628.2" r="12.6"/>
<circle cx="825.7" cy="625.5" r="12.6"/>
<circle cx="827.1" cy="607.7" r="12.6"/>
<circle cx="836.6" cy="602.5" r="12.6"/>
<circle cx="855.3" cy="606.0" r="12.6"/>
<circle cx="850.9" cy="585.3" r="12.6"/>
<circle cx="859.5" cy="580.2" r="12.6"/>
<circle cx="873.3" cy="580.1" r="12.6"/>
<circle cx="872.2" cy="562.8" r="12.6"/>
<circle cx="886.0" cy="563.0" r="12.6"/>
<circle cx="903.5" cy="567.0" r="12.6"/>
<circle cx="906.0" cy="551.5" r="12.6"/>
<circle cx="917.3" cy="547.3" r="12.6"/>
<circle cx="927.8" cy="545.8" r="12.6"/>
<circle cx="936.8" cy="537.8" r="12.6"/>
<circle cx="938.9" cy="521.2" r="12.6"/>
<circle cx="942.7" cy="509.2" r="12.6"/>
<circle cx="951.0" cy="501.2" r="12.6"/>
<circle cx="960.4" cy="498.2" r="12.6"/>
<circle cx="969.9" cy="494.6" r="12.6"/>
<circle cx="971.9" cy="482.5" r="12.6"/>
<circle cx="980.9" cy="478.4" r="12.6"/>
<circle cx="987.8" cy="470.5" r="12.6"/>
<circle cx="1006.3" cy="473.7" r="12.6"/>
<circle cx="1008.3" cy="461.0" r="12.6"/>
<circle cx="1018.1" cy="456.6" r="12.6"/>
<circle cx="1032.8" cy="459.7" r="12.6"/>
<circle cx="1036.9" cy="444.5" r="12.6"/>
<circle cx="1039.6" cy="430.6" r="12.6"/>
<circle cx="1050.8" cy="429.5" r="12.6"/>
<circle cx="1066.0" cy="432.4" r="12.6"/>
<circle cx="1061.3" cy="411.2" r="12.6"/>
<circle cx="1078.8" cy="412.8" r="12.6"/>
<circle cx="1086.4" cy="407.1" r="12.6"/>
<circle cx="1093.3" cy="401.1" r="12.6"/>
<circle cx="1108.3" cy="399.4" r="12.6"/>
<circle cx="1108.3" cy="380.8" r="12.6"/>
<circle cx="1115.0" cy="372.5" r="12.6"/>
<circle cx="1129.8" cy="371.8" r="12.6"/>
<circle cx="1136.1" cy="360.5" r="12.6"/>
<circle cx="1151.0" cy="363.4" r="12.6"/>
<circle cx="1161.6" cy="356.1" r="12.6"/>
<circle cx="1170.5" cy="347.9" r="12.6"/>
<circle cx="1170.8" cy="329.4" r="12.6"/>
<circle cx="1181.3" cy="324.9" r="12.6"/>
<circle cx="1183.4" cy="313.1" r="12.6"/>
<circle cx="1194.7" cy="311.1" r="12.6"/>
<circle cx="1214.4" cy="316.9" r="12.6"/>
<circle cx="1222.4" cy="309.8" r="12.6"/>
<circle cx="1232.6" cy="302.1" r="12.6"/>
<circle cx="1229.6" cy="281.8" r="12.6"/>
<circle cx="1237.0" cy="275.2" r="12.6"/>
<circle cx="1251.0" cy="277.1" r="12.6"/>
<circle cx="1264.0" cy="273.3" r="12.6"/>
<circle cx="1269.6" cy="263.0" r="12.6"/>
<circle cx="1270.4" cy="244.8" r="12.6"/>
<circle cx="1291.9" cy="253.0" r="12.6"/>
<circle cx="1298.8" cy="242.5" r="12.6"/>
<circle cx="1298.6" cy="225.0" r="12.6"/>
<circle cx="1310.3" cy="220.4" r="12.6"/>
<circle cx="1329.4" cy="224.8" r="12.6"/>
<circle cx="1328.9" cy="207.5" r="12.6"/>
<circle cx="1343.7" cy="205.6" r="12.6"/>
<circle cx="1342.1" cy="188.4" r="12.6"/>
<circle cx="1361.3" cy="196.9" r="12.6"/>
<circle cx="1359.3" cy="175.2" r="12.6"/>
<circle cx="1381.4" cy="183.1" r="12.6"/>
<circle cx="1380.8" cy="164.1" r="12.6"/>
<circle cx="1386.2" cy="153.1" r="12.6"/>
<circle cx="1405.9" cy="163.1" r="12.6"/>
<circle cx="1408.1" cy="147.6" r="12.6"/>
<circle cx="1416.5" cy="138.0" r="12.6"/>
<circle cx="1432.1" cy="137.6" r="12.6"/>
<circle cx="1431.0" cy="120.7" r="12.6"/>
<circle cx="1438.7" cy="114.1" r="12.6"/>
<circle cx="362.5" cy="664.3" r="12.6"/>
<circle cx="362.5" cy="872.8" r="12.6"/>
<circle cx="362.5" cy="926.0" r="12.6"/>
<circle cx="362.5" cy="934.0" r="12.6"/>
<circle cx="362.5" cy="943.0" r="12.6"/>
<circle cx="362.5" cy="952.0" r="12.6"/>
<circle cx="362.5" cy="961.0" r="12.6"/>
<circle cx="362.5" cy="970.0" r="12.6"/>
<circle cx="362.5" cy="979.0" r="12.6"/>
<circle cx="362.5" cy="986.0" r="12.6"/>
<circle cx="412.0" cy="974.2" r="12.6"/>
<circle cx="396.8" cy="827.1" r="12.6"/>
<circle cx="442.5" cy="950.1" r="12.6"/>
<circle cx="419.7" cy="919.7" r="12.6"/>
<circle cx="428.5" cy="932.4" r="12.6"/>
<circle cx="433.6" cy="896.9" r="12.6"/>
<circle cx="446.3" cy="912.1" r="12.6"/>
<circle cx="441.2" cy="882.9" r="12.6"/>
<circle cx="462.8" cy="882.9" r="12.6"/>
<circle cx="459.0" cy="869.0" r="12.6"/>
<circle cx="467.9" cy="902.0" r="12.6"/>
<circle cx="466.6" cy="833.5" r="12.6"/>
<circle cx="474.2" cy="853.8" r="12.6"/>
<circle cx="494.5" cy="876.6" r="12.6"/>
<circle cx="512.2" cy="898.1" r="12.6"/>
<circle cx="486.9" cy="891.8" r="12.6"/>
<circle cx="503.4" cy="833.5" r="12.6"/>
<circle cx="511.0" cy="843.6" r="12.6"/>
<circle cx="509.7" cy="862.6" r="12.6"/>
<circle cx="523.7" cy="852.5" r="12.6"/>
<circle cx="536.3" cy="841.1" r="12.6"/>
<circle cx="543.9" cy="789.1" r="12.6"/>
<circle cx="563.0" cy="800.5" r="12.6"/>
<circle cx="552.8" cy="819.5" r="12.6"/>
<circle cx="573.1" cy="815.7" r="12.6"/>
<circle cx="598.5" cy="828.4" r="12.6"/>
<circle cx="585.8" cy="806.8" r="12.6"/>
<circle cx="604.8" cy="776.4" r="12.6"/>
<circle cx="611.2" cy="792.9" r="12.6"/>
<circle cx="621.3" cy="805.6" r="12.6"/>
<circle cx="578.2" cy="770.0" r="12.6"/>
<circle cx="467.9" cy="753.0" r="12.6"/>
<circle cx="565.5" cy="706.1" r="12.6"/>
<circle cx="613.7" cy="715.8" r="12.6"/>
<circle cx="640.8" cy="620.0" r="12.6"/>
<circle cx="667.8" cy="669.3" r="12.6"/>
<circle cx="712.2" cy="635.8" r="12.6"/>
<circle cx="736.3" cy="635.8" r="12.6"/>
<circle cx="577.8" cy="766.4" r="12.6"/>
<circle cx="604.4" cy="768.9" r="12.6"/>
<circle cx="567.6" cy="798.1" r="12.6"/>
<circle cx="628.5" cy="765.1" r="12.6"/>
<circle cx="600.6" cy="782.9" r="12.6"/>
<circle cx="613.3" cy="795.6" r="12.6"/>
<circle cx="648.8" cy="739.8" r="12.6"/>
<circle cx="665.3" cy="732.2" r="12.6"/>
<circle cx="685.5" cy="711.9" r="12.6"/>
<circle cx="689.3" cy="757.5" r="12.6"/>
<circle cx="684.3" cy="747.4" r="12.6"/>
<circle cx="702.0" cy="727.0" r="12.6"/>
<circle cx="713.4" cy="681.4" r="12.6"/>
<circle cx="723.6" cy="668.8" r="12.6"/>
<circle cx="722.3" cy="691.6" r="12.6"/>
<circle cx="712.2" cy="704.3" r="12.6"/>
<circle cx="741.3" cy="677.6" r="12.6"/>
<circle cx="740.1" cy="691.6" r="12.6"/>
<circle cx="741.3" cy="724.6" r="12.6"/>
<circle cx="752.7" cy="706.8" r="12.6"/>
<circle cx="773.0" cy="668.8" r="12.6"/>
<circle cx="773.0" cy="694.1" r="12.6"/>
<circle cx="790.8" cy="678.9" r="12.6"/>
<circle cx="770.5" cy="647.2" r="12.6"/>
<circle cx="785.7" cy="634.5" r="12.6"/>
<circle cx="798.4" cy="628.2" r="12.6"/>
<circle cx="800.9" cy="651.0" r="12.6"/>
<circle cx="828.8" cy="637.1" r="12.6"/>
<circle cx="826.3" cy="606.6" r="12.6"/>
<circle cx="844.0" cy="626.9" r="12.6"/>
<circle cx="836.4" cy="585.1" r="12.6"/>
<circle cx="854.2" cy="610.4" r="12.6"/>
<circle cx="792.4" cy="609.8" r="12.6"/>
<circle cx="873.8" cy="519.2" r="12.6"/>
<circle cx="927.1" cy="486.2" r="12.6"/>
<circle cx="884.0" cy="608.0" r="12.6"/>
<circle cx="938.5" cy="577.5" r="12.6"/>
<circle cx="828.2" cy="603.0" r="12.6"/>
<circle cx="838.3" cy="587.7" r="12.6"/>
<circle cx="852.3" cy="577.5" r="12.6"/>
<circle cx="866.2" cy="585.1" r="12.6"/>
<circle cx="877.6" cy="562.3" r="12.6"/>
<circle cx="891.6" cy="558.5" r="12.6"/>
<circle cx="904.3" cy="575.0" r="12.6"/>
<circle cx="899.2" cy="539.5" r="12.6"/>
<circle cx="913.1" cy="537.0" r="12.6"/>
<circle cx="906.8" cy="524.3" r="12.6"/>
<circle cx="927.1" cy="526.8" r="12.6"/>
<circle cx="938.5" cy="549.6" r="12.6"/>
<circle cx="947.4" cy="509.1" r="12.6"/>
<circle cx="937.2" cy="501.4" r="12.6"/>
<circle cx="963.9" cy="492.6" r="12.6"/>
<circle cx="957.5" cy="521.7" r="12.6"/>
<circle cx="975.3" cy="529.3" r="12.6"/>
<circle cx="982.9" cy="521.7" r="12.6"/>
<circle cx="998.1" cy="505.2" r="12.6"/>
<circle cx="1022.2" cy="504.0" r="12.6"/>
<circle cx="989.2" cy="453.3" r="12.6"/>
<circle cx="995.6" cy="468.5" r="12.6"/>
<circle cx="1012.1" cy="452.0" r="12.6"/>
<circle cx="1003.2" cy="493.8" r="12.6"/>
<circle cx="1023.5" cy="483.7" r="12.6"/>
<circle cx="1047.6" cy="468.5" r="12.6"/>
<circle cx="1048.8" cy="429.2" r="12.6"/>
<circle cx="1033.6" cy="435.5" r="12.6"/>
<circle cx="1059.0" cy="450.7" r="12.6"/>
<circle cx="1066.6" cy="412.7" r="12.6"/>
<circle cx="1076.7" cy="450.7" r="12.6"/>
<circle cx="1143.8" cy="397.3" r="12.6"/>
<circle cx="1052.5" cy="431.5" r="12.6"/>
<circle cx="1069.0" cy="415.0" r="12.6"/>
<circle cx="1088.0" cy="393.5" r="12.6"/>
<circle cx="1102.0" cy="377.0" r="12.6"/>
<circle cx="1118.4" cy="377.0" r="12.6"/>
<circle cx="1118.4" cy="363.0" r="12.6"/>
<circle cx="1134.9" cy="361.8" r="12.6"/>
<circle cx="1112.1" cy="351.6" r="12.6"/>
<circle cx="1133.7" cy="326.3" r="12.6"/>
<circle cx="1151.4" cy="346.6" r="12.6"/>
<circle cx="1152.7" cy="311.0" r="12.6"/>
<circle cx="1164.1" cy="344.0" r="12.6"/>
<circle cx="1171.7" cy="321.2" r="12.6"/>
<circle cx="1174.2" cy="303.4" r="12.6"/>
<circle cx="1184.4" cy="326.3" r="12.6"/>
<circle cx="1185.6" cy="351.6" r="12.6"/>
<circle cx="1194.5" cy="299.6" r="12.6"/>
<circle cx="1205.9" cy="304.7" r="12.6"/>
<circle cx="1230.0" cy="318.7" r="12.6"/>
<circle cx="1226.2" cy="283.1" r="12.6"/>
<circle cx="1231.3" cy="257.8" r="12.6"/>
<circle cx="1238.9" cy="270.5" r="12.6"/>
<circle cx="1254.1" cy="255.3" r="12.6"/>
<circle cx="1259.2" cy="270.5" r="12.6"/>
<circle cx="1263.0" cy="284.4" r="12.6"/>
<circle cx="1269.3" cy="235.0" r="12.6"/>
<circle cx="1256.7" cy="240.0" r="12.6"/>
<circle cx="1282.0" cy="247.6" r="12.6"/>
<circle cx="1284.6" cy="226.1" r="12.6"/>
<circle cx="1294.7" cy="238.8" r="12.6"/>
<circle cx="1028.0" cy="434.0" r="12.6"/>
<circle cx="1038.5" cy="426.4" r="12.6"/>
<circle cx="1291.6" cy="258.0" r="12.6"/>
<circle cx="1445.9" cy="115.8" r="12.6"/>
<circle cx="1430.7" cy="120.9" r="12.6"/>
<circle cx="1416.8" cy="131.0" r="12.6"/>
<circle cx="1405.4" cy="147.5" r="12.6"/>
<circle cx="1387.6" cy="156.4" r="12.6"/>
<circle cx="1371.1" cy="164.0" r="12.6"/>
<circle cx="1376.2" cy="183.0" r="12.6"/>
<circle cx="1345.8" cy="183.0" r="12.6"/>
<circle cx="1336.9" cy="204.6" r="12.6"/>
<circle cx="1322.9" cy="214.7" r="12.6"/>
<circle cx="1303.9" cy="230.0" r="12.6"/>
<circle cx="1295.0" cy="218.5" r="12.6"/>
<circle cx="1269.7" cy="235.0" r="12.6"/>
<circle cx="1293.8" cy="238.8" r="12.6"/>
<circle cx="1253.2" cy="256.6" r="12.6"/>
<circle cx="1278.5" cy="250.2" r="12.6"/>
<circle cx="1443.0" cy="129.0" r="12.6"/>
<circle cx="1387.0" cy="174.0" r="12.6"/>
<circle cx="1349.0" cy="215.0" r="12.6"/>
<circle cx="1308.5" cy="243.0" r="12.6"/>
<circle cx="755.3" cy="684.0" r="12.6"/>
<circle cx="752.7" cy="663.7" r="12.6"/>
<circle cx="813.6" cy="641.0" r="12.6"/>
<circle cx="1140.0" cy="338.0" r="12.6"/>
<circle cx="1283.0" cy="268.0" r="12.6"/>
<circle cx="1270.0" cy="276.0" r="12.6"/>
<circle cx="752.1" cy="561.4" r="12.6"/>
<circle cx="851.0" cy="574.0" r="12.6"/>
<circle cx="1332.6" cy="216.5" r="12.6"/>
<circle cx="1350.3" cy="203.8" r="12.6"/>
<circle cx="1365.5" cy="186.1" r="12.6"/>
<circle cx="1393.4" cy="150.6" r="12.6"/>
<circle cx="1413.7" cy="140.4" r="12.6"/>
<circle cx="1428.9" cy="127.8" r="12.6"/>
<circle cx="1449.2" cy="117.6" r="12.6"/>
<circle cx="1312.3" cy="213.5" r="12.6"/>
<circle cx="1350.3" cy="178.0" r="12.6"/>
<circle cx="1451.8" cy="108.2" r="12.6"/>
<circle cx="1151.0" cy="325.4" r="12.6"/>
</g>
<line x1="362.5" y1="989.5" x2="1533.5" y2="48.7" stroke="#d5184a" stroke-width="4" stroke-dasharray="27.4 21" clip-path="url(#ca)"/>
<rect x="362.5" y="34.5" width="1181.0" height="954.0" fill="none" stroke="#161616" stroke-width="3"/>
<text x="362.0" y="1055.0" text-anchor="middle" font-size="56">0</text>
<text x="336.0" y="999.3" text-anchor="end" font-size="56">0</text>
<line x1="531.2" y1="988.5" x2="531.2" y2="968.5" stroke="#161616" stroke-width="3"/>
<line x1="362.5" y1="852.2" x2="382.5" y2="852.2" stroke="#161616" stroke-width="3"/>
<text x="530.7" y="1055.0" text-anchor="middle" font-size="56">50</text>
<text x="336.0" y="863.0" text-anchor="end" font-size="56">50</text>
<line x1="699.9" y1="988.5" x2="699.9" y2="968.5" stroke="#161616" stroke-width="3"/>
<line x1="362.5" y1="715.9" x2="382.5" y2="715.9" stroke="#161616" stroke-width="3"/>
<text x="699.4" y="1055.0" text-anchor="middle" font-size="56">100</text>
<text x="336.0" y="726.7" text-anchor="end" font-size="56">100</text>
<line x1="868.6" y1="988.5" x2="868.6" y2="968.5" stroke="#161616" stroke-width="3"/>
<line x1="362.5" y1="579.6" x2="382.5" y2="579.6" stroke="#161616" stroke-width="3"/>
<text x="868.1" y="1055.0" text-anchor="middle" font-size="56">150</text>
<text x="336.0" y="590.4" text-anchor="end" font-size="56">150</text>
<line x1="1037.4" y1="988.5" x2="1037.4" y2="968.5" stroke="#161616" stroke-width="3"/>
<line x1="362.5" y1="443.4" x2="382.5" y2="443.4" stroke="#161616" stroke-width="3"/>
<text x="1036.9" y="1055.0" text-anchor="middle" font-size="56">200</text>
<text x="336.0" y="454.2" text-anchor="end" font-size="56">200</text>
<line x1="1206.1" y1="988.5" x2="1206.1" y2="968.5" stroke="#161616" stroke-width="3"/>
<line x1="362.5" y1="307.1" x2="382.5" y2="307.1" stroke="#161616" stroke-width="3"/>
<text x="1205.6" y="1055.0" text-anchor="middle" font-size="56">250</text>
<text x="336.0" y="317.9" text-anchor="end" font-size="56">250</text>
<line x1="1374.8" y1="988.5" x2="1374.8" y2="968.5" stroke="#161616" stroke-width="3"/>
<line x1="362.5" y1="170.8" x2="382.5" y2="170.8" stroke="#161616" stroke-width="3"/>
<text x="1374.3" y="1055.0" text-anchor="middle" font-size="56">300</text>
<text x="336.0" y="181.6" text-anchor="end" font-size="56">300</text>
<text x="1543.0" y="1055.0" text-anchor="middle" font-size="56">350</text>
<text x="336.0" y="45.3" text-anchor="end" font-size="56">350</text>
<text x="953" y="1134" text-anchor="middle" font-size="55.5">Measured stress/MPa</text>
<text transform="translate(220.5,509.5) rotate(-90)" text-anchor="middle" font-size="55.8">Predicted stress/MPa</text>
<text x="376" y="89">(a)</text>
<circle cx="635.5" cy="70.3" r="14.3" fill="url(#gar)"/><circle cx="635.5" cy="70.3" r="12.6" fill="url(#ga)"/>
<text x="715" y="85" font-size="55.5">Testing data</text>
<line x1="573" y1="144" x2="694" y2="144" stroke="#d5184a" stroke-width="4" stroke-dasharray="21 15.6"/>
<text x="714" y="158" font-size="55.8">Best linear fit</text>
<text x="1200" y="785"><tspan font-style="italic">r</tspan>=0.996</text>
<text x="1200" y="846"><tspan font-style="italic">E</tspan><tspan font-size="32" dy="12" dx="1.5">AARE</tspan><tspan dy="-12">=4.63%</tspan></text>
<text x="1200" y="919"><tspan font-style="italic">E</tspan><tspan font-size="32" dy="12" dx="1.5">RMSE</tspan><tspan dy="-12">=6.721</tspan></text>
<clipPath id="cb"><rect x="1948.5" y="34.5" width="1181.0" height="954.0"/></clipPath>
<g clip-path="url(#cb)" fill="url(#gbr)">
<circle cx="2069.5" cy="917.5" r="14.3"/>
<circle cx="2093.2" cy="890.4" r="14.3"/>
<circle cx="2117.5" cy="866.4" r="14.3"/>
<circle cx="2142.2" cy="865.7" r="14.3"/>
<circle cx="2162.5" cy="843.7" r="14.3"/>
<circle cx="2145.3" cy="815.0" r="14.3"/>
<circle cx="2175.7" cy="820.7" r="14.3"/>
<circle cx="2188.6" cy="798.0" r="14.3"/>
<circle cx="2198.7" cy="806.5" r="14.3"/>
<circle cx="2194.4" cy="755.0" r="14.3"/>
<circle cx="2204.5" cy="776.5" r="14.3"/>
<circle cx="2217.3" cy="796.4" r="14.3"/>
<circle cx="2230.8" cy="791.3" r="14.3"/>
<circle cx="2246.0" cy="793.0" r="14.3"/>
<circle cx="2288.2" cy="782.9" r="14.3"/>
<circle cx="2317.4" cy="771.5" r="14.3"/>
<circle cx="2224.8" cy="731.7" r="14.3"/>
<circle cx="2233.7" cy="742.3" r="14.3"/>
<circle cx="2247.6" cy="717.0" r="14.3"/>
<circle cx="2259.0" cy="713.0" r="14.3"/>
<circle cx="2262.9" cy="696.7" r="14.3"/>
<circle cx="2275.5" cy="685.2" r="14.3"/>
<circle cx="2280.6" cy="699.2" r="14.3"/>
<circle cx="2297.0" cy="689.0" r="14.3"/>
<circle cx="2292.0" cy="679.0" r="14.3"/>
<circle cx="2307.2" cy="701.7" r="14.3"/>
<circle cx="2312.3" cy="677.6" r="14.3"/>
<circle cx="2311.5" cy="657.4" r="14.3"/>
<circle cx="2327.5" cy="663.7" r="14.3"/>
<circle cx="2335.1" cy="680.2" r="14.3"/>
<circle cx="2342.7" cy="676.4" r="14.3"/>
<circle cx="2345.3" cy="646.0" r="14.3"/>
<circle cx="2352.9" cy="632.0" r="14.3"/>
<circle cx="2361.8" cy="614.2" r="14.3"/>
<circle cx="2371.9" cy="634.5" r="14.3"/>
<circle cx="2379.5" cy="606.6" r="14.3"/>
<circle cx="2379.5" cy="623.0" r="14.3"/>
<circle cx="2393.5" cy="607.9" r="14.3"/>
<circle cx="2388.4" cy="587.6" r="14.3"/>
<circle cx="2403.6" cy="595.2" r="14.3"/>
<circle cx="2413.8" cy="595.0" r="14.3"/>
<circle cx="2418.8" cy="632.0" r="14.3"/>
<circle cx="2441.7" cy="585.0" r="14.3"/>
<circle cx="2394.7" cy="577.2" r="14.3"/>
<circle cx="2383.3" cy="611.5" r="14.3"/>
<circle cx="2365.5" cy="614.0" r="14.3"/>
<circle cx="2417.5" cy="555.7" r="14.3"/>
<circle cx="2430.2" cy="555.7" r="14.3"/>
<circle cx="2425.1" cy="578.5" r="14.3"/>
<circle cx="2439.1" cy="583.6" r="14.3"/>
<circle cx="2430.2" cy="536.6" r="14.3"/>
<circle cx="2448.0" cy="524.0" r="14.3"/>
<circle cx="2463.2" cy="513.8" r="14.3"/>
<circle cx="2461.9" cy="564.5" r="14.3"/>
<circle cx="2469.5" cy="546.8" r="14.3"/>
<circle cx="2478.4" cy="532.8" r="14.3"/>
<circle cx="2489.8" cy="536.6" r="14.3"/>
<circle cx="2463.0" cy="590.0" r="14.3"/>
<circle cx="2507.6" cy="511.3" r="14.3"/>
<circle cx="2515.2" cy="496.0" r="14.3"/>
<circle cx="2529.1" cy="492.3" r="14.3"/>
<circle cx="2543.0" cy="493.5" r="14.3"/>
<circle cx="2543.0" cy="519.0" r="14.3"/>
<circle cx="2527.8" cy="527.8" r="14.3"/>
<circle cx="2554.5" cy="477.0" r="14.3"/>
<circle cx="2565.9" cy="477.0" r="14.3"/>
<circle cx="2559.5" cy="463.0" r="14.3"/>
<circle cx="2578.6" cy="463.0" r="14.3"/>
<circle cx="2592.5" cy="446.6" r="14.3"/>
<circle cx="2607.7" cy="439.0" r="14.3"/>
<circle cx="2626.8" cy="430.1" r="14.3"/>
<circle cx="2623.0" cy="409.8" r="14.3"/>
<circle cx="2654.7" cy="408.6" r="14.3"/>
<circle cx="2653.4" cy="450.4" r="14.3"/>
<circle cx="2628.0" cy="469.4" r="14.3"/>
<circle cx="2650.8" cy="468.2" r="14.3"/>
<circle cx="2648.3" cy="491.0" r="14.3"/>
<circle cx="2647.0" cy="527.8" r="14.3"/>
<circle cx="2519.9" cy="393.6" r="14.3"/>
<circle cx="2551.6" cy="374.0" r="14.3"/>
<circle cx="2621.3" cy="408.8" r="14.3"/>
<circle cx="2637.8" cy="384.7" r="14.3"/>
<circle cx="2680.9" cy="402.5" r="14.3"/>
<circle cx="2668.0" cy="397.0" r="14.3"/>
<circle cx="2632.7" cy="359.3" r="14.3"/>
<circle cx="2639.1" cy="349.2" r="14.3"/>
<circle cx="2653.0" cy="367.0" r="14.3"/>
<circle cx="2667.0" cy="358.0" r="14.3"/>
<circle cx="2674.6" cy="340.3" r="14.3"/>
<circle cx="2703.8" cy="368.2" r="14.3"/>
<circle cx="2703.8" cy="336.5" r="14.3"/>
<circle cx="2715.2" cy="317.5" r="14.3"/>
<circle cx="2724.0" cy="336.5" r="14.3"/>
<circle cx="2720.2" cy="349.2" r="14.3"/>
<circle cx="2740.9" cy="264.1" r="14.3"/>
<circle cx="2627.7" cy="427.8" r="14.3"/>
<circle cx="2607.4" cy="436.7" r="14.3"/>
<circle cx="2589.6" cy="443.0" r="14.3"/>
<circle cx="2665.7" cy="450.0" r="14.3"/>
<circle cx="2738.0" cy="435.6" r="14.3"/>
<circle cx="2756.0" cy="413.0" r="14.3"/>
<circle cx="2686.2" cy="511.9" r="14.3"/>
<circle cx="2644.4" cy="433.0" r="14.3"/>
<circle cx="2705.4" cy="336.4" r="14.3"/>
<circle cx="2767.5" cy="260.3" r="14.3"/>
<circle cx="2786.5" cy="274.3" r="14.3"/>
<circle cx="2786.5" cy="290.8" r="14.3"/>
<circle cx="2809.3" cy="290.8" r="14.3"/>
<circle cx="2792.9" cy="311.0" r="14.3"/>
<circle cx="2775.1" cy="349.0" r="14.3"/>
<circle cx="2772.6" cy="364.3" r="14.3"/>
<circle cx="2791.6" cy="350.3" r="14.3"/>
<circle cx="2811.9" cy="341.5" r="14.3"/>
<circle cx="2819.5" cy="237.5" r="14.3"/>
<circle cx="2833.4" cy="261.6" r="14.3"/>
<circle cx="2851.2" cy="243.8" r="14.3"/>
<circle cx="2868.9" cy="209.6" r="14.3"/>
<circle cx="2875.3" cy="222.3" r="14.3"/>
<circle cx="2895.6" cy="212.1" r="14.3"/>
<circle cx="2912.0" cy="256.5" r="14.3"/>
<circle cx="2895.6" cy="295.0" r="14.3"/>
<circle cx="2907.0" cy="164.5" r="14.3"/>
<circle cx="2928.5" cy="161.4" r="14.3"/>
<circle cx="2954.5" cy="172.2" r="14.3"/>
<circle cx="2956.4" cy="192.4" r="14.3"/>
<circle cx="2969.0" cy="219.7" r="14.3"/>
<circle cx="2948.8" cy="234.3" r="14.3"/>
<circle cx="3012.2" cy="169.0" r="14.3"/>
<circle cx="3062.9" cy="128.5" r="14.3"/>
<circle cx="3085.7" cy="114.5" r="14.3"/>
<circle cx="3128.8" cy="113.3" r="14.3"/>
<circle cx="3140.0" cy="156.4" r="14.3"/>
<circle cx="3061.6" cy="194.4" r="14.3"/>
<circle cx="3099.7" cy="180.0" r="14.3"/>
<circle cx="2448.8" cy="540.0" r="14.3"/>
<circle cx="2440.0" cy="560.0" r="14.3"/>
<circle cx="2517.0" cy="509.0" r="14.3"/>
<circle cx="2537.5" cy="503.0" r="14.3"/>
<circle cx="2573.0" cy="474.0" r="14.3"/>
<circle cx="2592.0" cy="460.0" r="14.3"/>
<circle cx="2610.0" cy="447.0" r="14.3"/>
<circle cx="2512.0" cy="522.0" r="14.3"/>
</g>
<g clip-path="url(#cb)" fill="#5148ad">
<circle cx="2069.5" cy="917.5" r="13.5"/>
<circle cx="2093.2" cy="890.4" r="13.5"/>
<circle cx="2117.5" cy="866.4" r="13.5"/>
<circle cx="2142.2" cy="865.7" r="13.5"/>
<circle cx="2162.5" cy="843.7" r="13.5"/>
<circle cx="2145.3" cy="815.0" r="13.5"/>
<circle cx="2175.7" cy="820.7" r="13.5"/>
<circle cx="2188.6" cy="798.0" r="13.5"/>
<circle cx="2198.7" cy="806.5" r="13.5"/>
<circle cx="2194.4" cy="755.0" r="13.5"/>
<circle cx="2204.5" cy="776.5" r="13.5"/>
<circle cx="2217.3" cy="796.4" r="13.5"/>
<circle cx="2230.8" cy="791.3" r="13.5"/>
<circle cx="2246.0" cy="793.0" r="13.5"/>
<circle cx="2288.2" cy="782.9" r="13.5"/>
<circle cx="2317.4" cy="771.5" r="13.5"/>
<circle cx="2224.8" cy="731.7" r="13.5"/>
<circle cx="2233.7" cy="742.3" r="13.5"/>
<circle cx="2247.6" cy="717.0" r="13.5"/>
<circle cx="2259.0" cy="713.0" r="13.5"/>
<circle cx="2262.9" cy="696.7" r="13.5"/>
<circle cx="2275.5" cy="685.2" r="13.5"/>
<circle cx="2280.6" cy="699.2" r="13.5"/>
<circle cx="2297.0" cy="689.0" r="13.5"/>
<circle cx="2292.0" cy="679.0" r="13.5"/>
<circle cx="2307.2" cy="701.7" r="13.5"/>
<circle cx="2312.3" cy="677.6" r="13.5"/>
<circle cx="2311.5" cy="657.4" r="13.5"/>
<circle cx="2327.5" cy="663.7" r="13.5"/>
<circle cx="2335.1" cy="680.2" r="13.5"/>
<circle cx="2342.7" cy="676.4" r="13.5"/>
<circle cx="2345.3" cy="646.0" r="13.5"/>
<circle cx="2352.9" cy="632.0" r="13.5"/>
<circle cx="2361.8" cy="614.2" r="13.5"/>
<circle cx="2371.9" cy="634.5" r="13.5"/>
<circle cx="2379.5" cy="606.6" r="13.5"/>
<circle cx="2379.5" cy="623.0" r="13.5"/>
<circle cx="2393.5" cy="607.9" r="13.5"/>
<circle cx="2388.4" cy="587.6" r="13.5"/>
<circle cx="2403.6" cy="595.2" r="13.5"/>
<circle cx="2413.8" cy="595.0" r="13.5"/>
<circle cx="2418.8" cy="632.0" r="13.5"/>
<circle cx="2441.7" cy="585.0" r="13.5"/>
<circle cx="2394.7" cy="577.2" r="13.5"/>
<circle cx="2383.3" cy="611.5" r="13.5"/>
<circle cx="2365.5" cy="614.0" r="13.5"/>
<circle cx="2417.5" cy="555.7" r="13.5"/>
<circle cx="2430.2" cy="555.7" r="13.5"/>
<circle cx="2425.1" cy="578.5" r="13.5"/>
<circle cx="2439.1" cy="583.6" r="13.5"/>
<circle cx="2430.2" cy="536.6" r="13.5"/>
<circle cx="2448.0" cy="524.0" r="13.5"/>
<circle cx="2463.2" cy="513.8" r="13.5"/>
<circle cx="2461.9" cy="564.5" r="13.5"/>
<circle cx="2469.5" cy="546.8" r="13.5"/>
<circle cx="2478.4" cy="532.8" r="13.5"/>
<circle cx="2489.8" cy="536.6" r="13.5"/>
<circle cx="2463.0" cy="590.0" r="13.5"/>
<circle cx="2507.6" cy="511.3" r="13.5"/>
<circle cx="2515.2" cy="496.0" r="13.5"/>
<circle cx="2529.1" cy="492.3" r="13.5"/>
<circle cx="2543.0" cy="493.5" r="13.5"/>
<circle cx="2543.0" cy="519.0" r="13.5"/>
<circle cx="2527.8" cy="527.8" r="13.5"/>
<circle cx="2554.5" cy="477.0" r="13.5"/>
<circle cx="2565.9" cy="477.0" r="13.5"/>
<circle cx="2559.5" cy="463.0" r="13.5"/>
<circle cx="2578.6" cy="463.0" r="13.5"/>
<circle cx="2592.5" cy="446.6" r="13.5"/>
<circle cx="2607.7" cy="439.0" r="13.5"/>
<circle cx="2626.8" cy="430.1" r="13.5"/>
<circle cx="2623.0" cy="409.8" r="13.5"/>
<circle cx="2654.7" cy="408.6" r="13.5"/>
<circle cx="2653.4" cy="450.4" r="13.5"/>
<circle cx="2628.0" cy="469.4" r="13.5"/>
<circle cx="2650.8" cy="468.2" r="13.5"/>
<circle cx="2648.3" cy="491.0" r="13.5"/>
<circle cx="2647.0" cy="527.8" r="13.5"/>
<circle cx="2519.9" cy="393.6" r="13.5"/>
<circle cx="2551.6" cy="374.0" r="13.5"/>
<circle cx="2621.3" cy="408.8" r="13.5"/>
<circle cx="2637.8" cy="384.7" r="13.5"/>
<circle cx="2680.9" cy="402.5" r="13.5"/>
<circle cx="2668.0" cy="397.0" r="13.5"/>
<circle cx="2632.7" cy="359.3" r="13.5"/>
<circle cx="2639.1" cy="349.2" r="13.5"/>
<circle cx="2653.0" cy="367.0" r="13.5"/>
<circle cx="2667.0" cy="358.0" r="13.5"/>
<circle cx="2674.6" cy="340.3" r="13.5"/>
<circle cx="2703.8" cy="368.2" r="13.5"/>
<circle cx="2703.8" cy="336.5" r="13.5"/>
<circle cx="2715.2" cy="317.5" r="13.5"/>
<circle cx="2724.0" cy="336.5" r="13.5"/>
<circle cx="2720.2" cy="349.2" r="13.5"/>
<circle cx="2740.9" cy="264.1" r="13.5"/>
<circle cx="2627.7" cy="427.8" r="13.5"/>
<circle cx="2607.4" cy="436.7" r="13.5"/>
<circle cx="2589.6" cy="443.0" r="13.5"/>
<circle cx="2665.7" cy="450.0" r="13.5"/>
<circle cx="2738.0" cy="435.6" r="13.5"/>
<circle cx="2756.0" cy="413.0" r="13.5"/>
<circle cx="2686.2" cy="511.9" r="13.5"/>
<circle cx="2644.4" cy="433.0" r="13.5"/>
<circle cx="2705.4" cy="336.4" r="13.5"/>
<circle cx="2767.5" cy="260.3" r="13.5"/>
<circle cx="2786.5" cy="274.3" r="13.5"/>
<circle cx="2786.5" cy="290.8" r="13.5"/>
<circle cx="2809.3" cy="290.8" r="13.5"/>
<circle cx="2792.9" cy="311.0" r="13.5"/>
<circle cx="2775.1" cy="349.0" r="13.5"/>
<circle cx="2772.6" cy="364.3" r="13.5"/>
<circle cx="2791.6" cy="350.3" r="13.5"/>
<circle cx="2811.9" cy="341.5" r="13.5"/>
<circle cx="2819.5" cy="237.5" r="13.5"/>
<circle cx="2833.4" cy="261.6" r="13.5"/>
<circle cx="2851.2" cy="243.8" r="13.5"/>
<circle cx="2868.9" cy="209.6" r="13.5"/>
<circle cx="2875.3" cy="222.3" r="13.5"/>
<circle cx="2895.6" cy="212.1" r="13.5"/>
<circle cx="2912.0" cy="256.5" r="13.5"/>
<circle cx="2895.6" cy="295.0" r="13.5"/>
<circle cx="2907.0" cy="164.5" r="13.5"/>
<circle cx="2928.5" cy="161.4" r="13.5"/>
<circle cx="2954.5" cy="172.2" r="13.5"/>
<circle cx="2956.4" cy="192.4" r="13.5"/>
<circle cx="2969.0" cy="219.7" r="13.5"/>
<circle cx="2948.8" cy="234.3" r="13.5"/>
<circle cx="3012.2" cy="169.0" r="13.5"/>
<circle cx="3062.9" cy="128.5" r="13.5"/>
<circle cx="3085.7" cy="114.5" r="13.5"/>
<circle cx="3128.8" cy="113.3" r="13.5"/>
<circle cx="3140.0" cy="156.4" r="13.5"/>
<circle cx="3061.6" cy="194.4" r="13.5"/>
<circle cx="3099.7" cy="180.0" r="13.5"/>
<circle cx="2448.8" cy="540.0" r="13.5"/>
<circle cx="2440.0" cy="560.0" r="13.5"/>
<circle cx="2517.0" cy="509.0" r="13.5"/>
<circle cx="2537.5" cy="503.0" r="13.5"/>
<circle cx="2573.0" cy="474.0" r="13.5"/>
<circle cx="2592.0" cy="460.0" r="13.5"/>
<circle cx="2610.0" cy="447.0" r="13.5"/>
<circle cx="2512.0" cy="522.0" r="13.5"/>
</g>
<g clip-path="url(#cb)" fill="url(#gb)">
<circle cx="2069.5" cy="917.5" r="12.6"/>
<circle cx="2093.2" cy="890.4" r="12.6"/>
<circle cx="2117.5" cy="866.4" r="12.6"/>
<circle cx="2142.2" cy="865.7" r="12.6"/>
<circle cx="2162.5" cy="843.7" r="12.6"/>
<circle cx="2145.3" cy="815.0" r="12.6"/>
<circle cx="2175.7" cy="820.7" r="12.6"/>
<circle cx="2188.6" cy="798.0" r="12.6"/>
<circle cx="2198.7" cy="806.5" r="12.6"/>
<circle cx="2194.4" cy="755.0" r="12.6"/>
<circle cx="2204.5" cy="776.5" r="12.6"/>
<circle cx="2217.3" cy="796.4" r="12.6"/>
<circle cx="2230.8" cy="791.3" r="12.6"/>
<circle cx="2246.0" cy="793.0" r="12.6"/>
<circle cx="2288.2" cy="782.9" r="12.6"/>
<circle cx="2317.4" cy="771.5" r="12.6"/>
<circle cx="2224.8" cy="731.7" r="12.6"/>
<circle cx="2233.7" cy="742.3" r="12.6"/>
<circle cx="2247.6" cy="717.0" r="12.6"/>
<circle cx="2259.0" cy="713.0" r="12.6"/>
<circle cx="2262.9" cy="696.7" r="12.6"/>
<circle cx="2275.5" cy="685.2" r="12.6"/>
<circle cx="2280.6" cy="699.2" r="12.6"/>
<circle cx="2297.0" cy="689.0" r="12.6"/>
<circle cx="2292.0" cy="679.0" r="12.6"/>
<circle cx="2307.2" cy="701.7" r="12.6"/>
<circle cx="2312.3" cy="677.6" r="12.6"/>
<circle cx="2311.5" cy="657.4" r="12.6"/>
<circle cx="2327.5" cy="663.7" r="12.6"/>
<circle cx="2335.1" cy="680.2" r="12.6"/>
<circle cx="2342.7" cy="676.4" r="12.6"/>
<circle cx="2345.3" cy="646.0" r="12.6"/>
<circle cx="2352.9" cy="632.0" r="12.6"/>
<circle cx="2361.8" cy="614.2" r="12.6"/>
<circle cx="2371.9" cy="634.5" r="12.6"/>
<circle cx="2379.5" cy="606.6" r="12.6"/>
<circle cx="2379.5" cy="623.0" r="12.6"/>
<circle cx="2393.5" cy="607.9" r="12.6"/>
<circle cx="2388.4" cy="587.6" r="12.6"/>
<circle cx="2403.6" cy="595.2" r="12.6"/>
<circle cx="2413.8" cy="595.0" r="12.6"/>
<circle cx="2418.8" cy="632.0" r="12.6"/>
<circle cx="2441.7" cy="585.0" r="12.6"/>
<circle cx="2394.7" cy="577.2" r="12.6"/>
<circle cx="2383.3" cy="611.5" r="12.6"/>
<circle cx="2365.5" cy="614.0" r="12.6"/>
<circle cx="2417.5" cy="555.7" r="12.6"/>
<circle cx="2430.2" cy="555.7" r="12.6"/>
<circle cx="2425.1" cy="578.5" r="12.6"/>
<circle cx="2439.1" cy="583.6" r="12.6"/>
<circle cx="2430.2" cy="536.6" r="12.6"/>
<circle cx="2448.0" cy="524.0" r="12.6"/>
<circle cx="2463.2" cy="513.8" r="12.6"/>
<circle cx="2461.9" cy="564.5" r="12.6"/>
<circle cx="2469.5" cy="546.8" r="12.6"/>
<circle cx="2478.4" cy="532.8" r="12.6"/>
<circle cx="2489.8" cy="536.6" r="12.6"/>
<circle cx="2463.0" cy="590.0" r="12.6"/>
<circle cx="2507.6" cy="511.3" r="12.6"/>
<circle cx="2515.2" cy="496.0" r="12.6"/>
<circle cx="2529.1" cy="492.3" r="12.6"/>
<circle cx="2543.0" cy="493.5" r="12.6"/>
<circle cx="2543.0" cy="519.0" r="12.6"/>
<circle cx="2527.8" cy="527.8" r="12.6"/>
<circle cx="2554.5" cy="477.0" r="12.6"/>
<circle cx="2565.9" cy="477.0" r="12.6"/>
<circle cx="2559.5" cy="463.0" r="12.6"/>
<circle cx="2578.6" cy="463.0" r="12.6"/>
<circle cx="2592.5" cy="446.6" r="12.6"/>
<circle cx="2607.7" cy="439.0" r="12.6"/>
<circle cx="2626.8" cy="430.1" r="12.6"/>
<circle cx="2623.0" cy="409.8" r="12.6"/>
<circle cx="2654.7" cy="408.6" r="12.6"/>
<circle cx="2653.4" cy="450.4" r="12.6"/>
<circle cx="2628.0" cy="469.4" r="12.6"/>
<circle cx="2650.8" cy="468.2" r="12.6"/>
<circle cx="2648.3" cy="491.0" r="12.6"/>
<circle cx="2647.0" cy="527.8" r="12.6"/>
<circle cx="2519.9" cy="393.6" r="12.6"/>
<circle cx="2551.6" cy="374.0" r="12.6"/>
<circle cx="2621.3" cy="408.8" r="12.6"/>
<circle cx="2637.8" cy="384.7" r="12.6"/>
<circle cx="2680.9" cy="402.5" r="12.6"/>
<circle cx="2668.0" cy="397.0" r="12.6"/>
<circle cx="2632.7" cy="359.3" r="12.6"/>
<circle cx="2639.1" cy="349.2" r="12.6"/>
<circle cx="2653.0" cy="367.0" r="12.6"/>
<circle cx="2667.0" cy="358.0" r="12.6"/>
<circle cx="2674.6" cy="340.3" r="12.6"/>
<circle cx="2703.8" cy="368.2" r="12.6"/>
<circle cx="2703.8" cy="336.5" r="12.6"/>
<circle cx="2715.2" cy="317.5" r="12.6"/>
<circle cx="2724.0" cy="336.5" r="12.6"/>
<circle cx="2720.2" cy="349.2" r="12.6"/>
<circle cx="2740.9" cy="264.1" r="12.6"/>
<circle cx="2627.7" cy="427.8" r="12.6"/>
<circle cx="2607.4" cy="436.7" r="12.6"/>
<circle cx="2589.6" cy="443.0" r="12.6"/>
<circle cx="2665.7" cy="450.0" r="12.6"/>
<circle cx="2738.0" cy="435.6" r="12.6"/>
<circle cx="2756.0" cy="413.0" r="12.6"/>
<circle cx="2686.2" cy="511.9" r="12.6"/>
<circle cx="2644.4" cy="433.0" r="12.6"/>
<circle cx="2705.4" cy="336.4" r="12.6"/>
<circle cx="2767.5" cy="260.3" r="12.6"/>
<circle cx="2786.5" cy="274.3" r="12.6"/>
<circle cx="2786.5" cy="290.8" r="12.6"/>
<circle cx="2809.3" cy="290.8" r="12.6"/>
<circle cx="2792.9" cy="311.0" r="12.6"/>
<circle cx="2775.1" cy="349.0" r="12.6"/>
<circle cx="2772.6" cy="364.3" r="12.6"/>
<circle cx="2791.6" cy="350.3" r="12.6"/>
<circle cx="2811.9" cy="341.5" r="12.6"/>
<circle cx="2819.5" cy="237.5" r="12.6"/>
<circle cx="2833.4" cy="261.6" r="12.6"/>
<circle cx="2851.2" cy="243.8" r="12.6"/>
<circle cx="2868.9" cy="209.6" r="12.6"/>
<circle cx="2875.3" cy="222.3" r="12.6"/>
<circle cx="2895.6" cy="212.1" r="12.6"/>
<circle cx="2912.0" cy="256.5" r="12.6"/>
<circle cx="2895.6" cy="295.0" r="12.6"/>
<circle cx="2907.0" cy="164.5" r="12.6"/>
<circle cx="2928.5" cy="161.4" r="12.6"/>
<circle cx="2954.5" cy="172.2" r="12.6"/>
<circle cx="2956.4" cy="192.4" r="12.6"/>
<circle cx="2969.0" cy="219.7" r="12.6"/>
<circle cx="2948.8" cy="234.3" r="12.6"/>
<circle cx="3012.2" cy="169.0" r="12.6"/>
<circle cx="3062.9" cy="128.5" r="12.6"/>
<circle cx="3085.7" cy="114.5" r="12.6"/>
<circle cx="3128.8" cy="113.3" r="12.6"/>
<circle cx="3140.0" cy="156.4" r="12.6"/>
<circle cx="3061.6" cy="194.4" r="12.6"/>
<circle cx="3099.7" cy="180.0" r="12.6"/>
<circle cx="2448.8" cy="540.0" r="12.6"/>
<circle cx="2440.0" cy="560.0" r="12.6"/>
<circle cx="2517.0" cy="509.0" r="12.6"/>
<circle cx="2537.5" cy="503.0" r="12.6"/>
<circle cx="2573.0" cy="474.0" r="12.6"/>
<circle cx="2592.0" cy="460.0" r="12.6"/>
<circle cx="2610.0" cy="447.0" r="12.6"/>
<circle cx="2512.0" cy="522.0" r="12.6"/>
</g>
<line x1="1948.5" y1="985.8" x2="3119.5" y2="44.0" stroke="#d5184a" stroke-width="4" stroke-dasharray="27.4 21" clip-path="url(#cb)"/>
<rect x="1948.5" y="34.5" width="1181.0" height="954.0" fill="none" stroke="#161616" stroke-width="3"/>
<text x="1948.0" y="1055.0" text-anchor="middle" font-size="56">0</text>
<text x="1920.3" y="1001.8" text-anchor="end" font-size="56">0</text>
<line x1="2117.2" y1="988.5" x2="2117.2" y2="968.5" stroke="#161616" stroke-width="3"/>
<line x1="1948.5" y1="852.2" x2="1968.5" y2="852.2" stroke="#161616" stroke-width="3"/>
<text x="2116.7" y="1055.0" text-anchor="middle" font-size="56">50</text>
<text x="1920.3" y="865.5" text-anchor="end" font-size="56">50</text>
<line x1="2285.9" y1="988.5" x2="2285.9" y2="968.5" stroke="#161616" stroke-width="3"/>
<line x1="1948.5" y1="715.9" x2="1968.5" y2="715.9" stroke="#161616" stroke-width="3"/>
<text x="2285.4" y="1055.0" text-anchor="middle" font-size="56">100</text>
<text x="1920.3" y="729.2" text-anchor="end" font-size="56">100</text>
<line x1="2454.6" y1="988.5" x2="2454.6" y2="968.5" stroke="#161616" stroke-width="3"/>
<line x1="1948.5" y1="579.6" x2="1968.5" y2="579.6" stroke="#161616" stroke-width="3"/>
<text x="2454.1" y="1055.0" text-anchor="middle" font-size="56">150</text>
<text x="1920.3" y="592.9" text-anchor="end" font-size="56">150</text>
<line x1="2623.4" y1="988.5" x2="2623.4" y2="968.5" stroke="#161616" stroke-width="3"/>
<line x1="1948.5" y1="443.4" x2="1968.5" y2="443.4" stroke="#161616" stroke-width="3"/>
<text x="2622.9" y="1055.0" text-anchor="middle" font-size="56">200</text>
<text x="1920.3" y="456.7" text-anchor="end" font-size="56">200</text>
<line x1="2792.1" y1="988.5" x2="2792.1" y2="968.5" stroke="#161616" stroke-width="3"/>
<line x1="1948.5" y1="307.1" x2="1968.5" y2="307.1" stroke="#161616" stroke-width="3"/>
<text x="2791.6" y="1055.0" text-anchor="middle" font-size="56">250</text>
<text x="1920.3" y="320.4" text-anchor="end" font-size="56">250</text>
<line x1="2960.8" y1="988.5" x2="2960.8" y2="968.5" stroke="#161616" stroke-width="3"/>
<line x1="1948.5" y1="170.8" x2="1968.5" y2="170.8" stroke="#161616" stroke-width="3"/>
<text x="2960.3" y="1055.0" text-anchor="middle" font-size="56">300</text>
<text x="1920.3" y="184.1" text-anchor="end" font-size="56">300</text>
<text x="3129.0" y="1055.0" text-anchor="middle" font-size="56">350</text>
<text x="1920.3" y="47.8" text-anchor="end" font-size="56">350</text>
<text x="2537" y="1134" text-anchor="middle" font-size="55.5">Measured stress/MPa</text>
<text transform="translate(1806,508) rotate(-90)" text-anchor="middle" font-size="56">Predicted stress/MPa</text>
<text x="1964" y="94">(b)</text>
<circle cx="2242.3" cy="78.4" r="14.3" fill="url(#gbr)"/><circle cx="2242.3" cy="78.4" r="12.6" fill="url(#gb)"/>
<text x="2308.5" y="93" font-size="55.5">Testing data</text>
<line x1="2197.5" y1="155" x2="2296" y2="155" stroke="#d5184a" stroke-width="4" stroke-dasharray="21 15.6"/>
<text x="2307.5" y="170.5" font-size="55.8">Best linear fit</text>
<text x="2783" y="780"><tspan font-style="italic">r</tspan>=0.975</text>
<text x="2783" y="840.5"><tspan font-style="italic">E</tspan><tspan font-size="32" dy="12" dx="1.5">AARE</tspan><tspan dy="-12">=7.94%</tspan></text>
<text x="2783" y="914.5"><tspan font-style="italic">E</tspan><tspan font-size="32" dy="12" dx="1.5">RMSE</tspan><tspan dy="-12">=16.032</tspan></text>
</svg>
</body></html>
